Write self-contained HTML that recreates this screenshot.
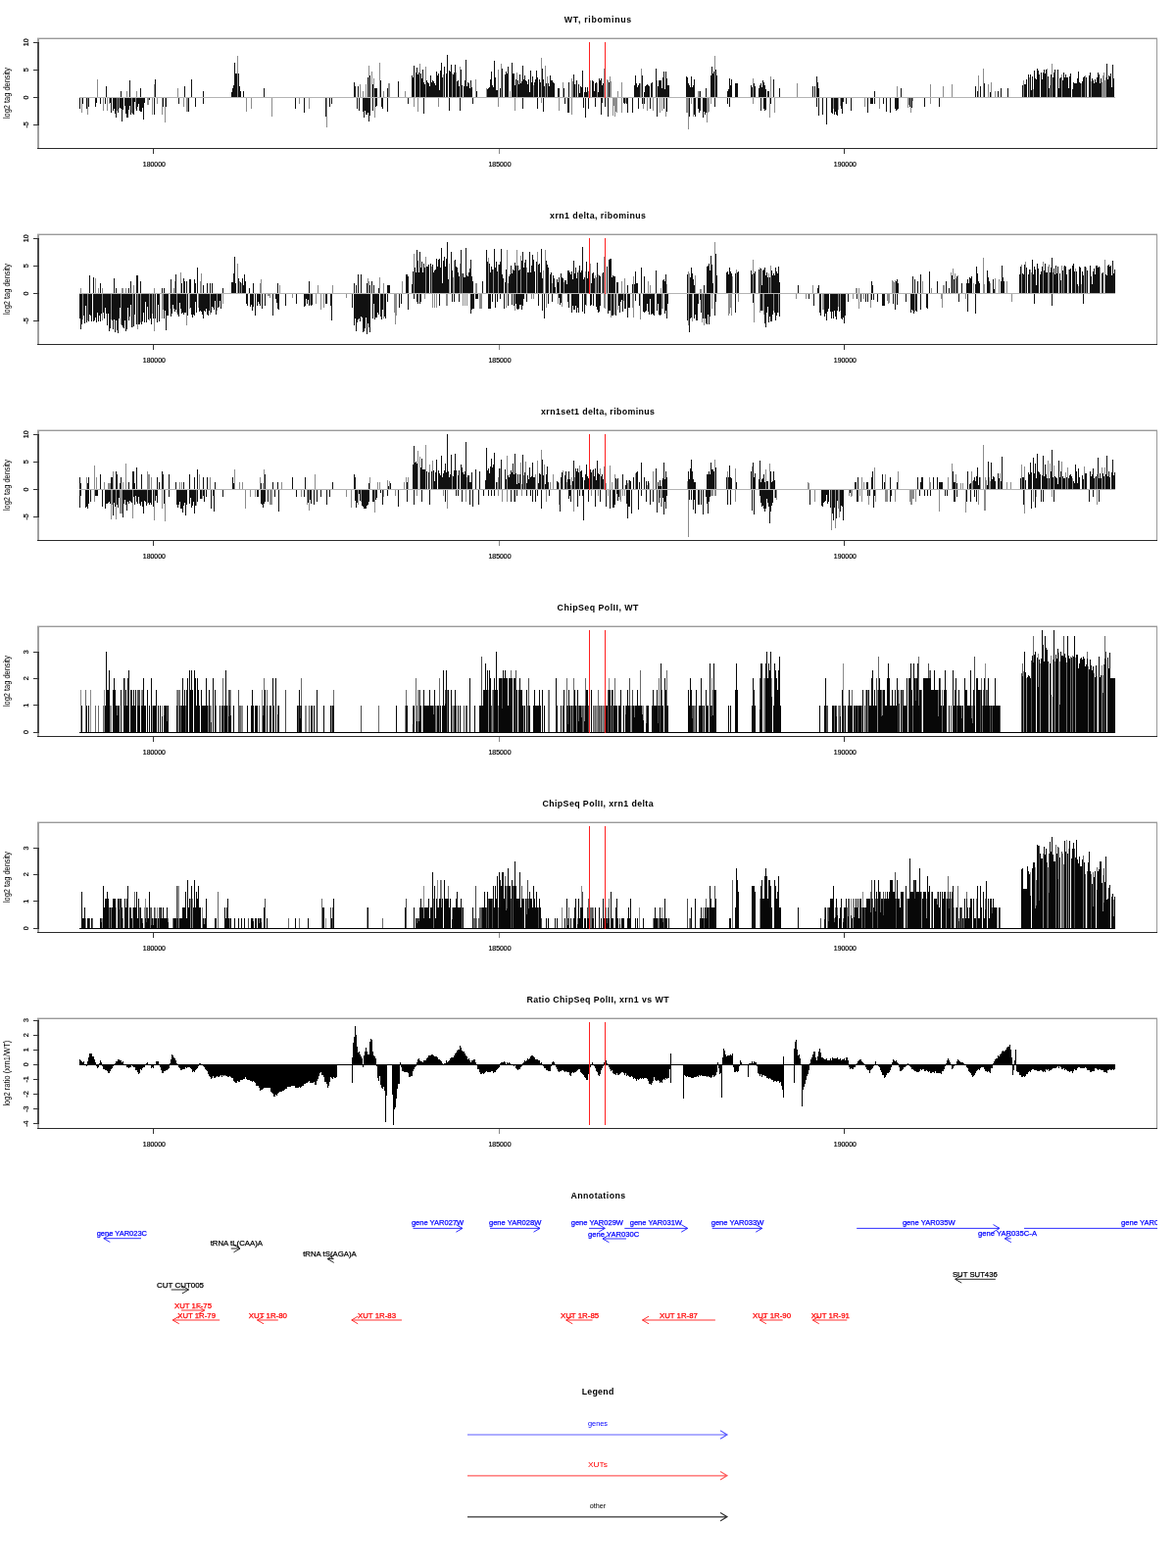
<!DOCTYPE html><html><head><meta charset="utf-8"><title>Plot</title><style>html,body{margin:0;padding:0;background:#fff;}svg{display:block;}text{font-family:"Liberation Sans", "Helvetica", Arial, sans-serif;}</style></head><body>
<svg width="1200" height="1600" viewBox="0 0 1200 1600" shape-rendering="crispEdges">
<rect width="1200" height="1600" fill="#fff"/>
<text x="610" y="23.0" font-size="8.8" font-weight="bold" text-anchor="middle" textLength="68.3" lengthAdjust="spacing">WT, ribominus</text>
<path d="M83.5 99V115M89.5 99V117M99.5 81V100M105.5 99V113M109.5 99V113M111.5 99V106M119.5 99V113M121.5 99V111M129.5 93V100M134.5 99V115M138.5 99V111M139.5 93V100M150.5 99V107M151.5 99V107M155.5 99V117M157.5 86V100M160.5 99V106M165.5 99V117M168.5 99V125M181.5 90V100M187.5 99V109M190.5 99V114M191.5 99V114M242.5 57V100M251.5 99V114M256.5 99V111M277.5 99V119M305.5 99V106M315.5 99V111M333.5 99V130M367.5 86V100M370.5 93V100M373.5 86V100M376.5 67V100M379.5 73V100M381.5 80V100M382.5 99V120M387.5 64V100M391.5 93V100M396.5 85V100M397.5 85V100M413.5 93V100M422.5 99V109M426.5 99V114M428.5 65V100M434.5 68V100M447.5 99V109M452.5 76V100M461.5 75V100M465.5 74V100M469.5 68V100M485.5 81V100M496.5 90V100M508.5 71V100M508.5 99V109M511.5 65V100M520.5 93V100M525.5 99V113M527.5 74V100M544.5 87V100M552.5 59V100M552.5 99V105M556.5 67V100M558.5 78V100M570.5 99V113M574.5 84V100M583.5 80V100M583.5 99V117M584.5 83V100M587.5 86V100M600.5 93V100M602.5 82V100M609.5 85V100M616.5 70V100M619.5 81V100M620.5 82V100M622.5 78V100M623.5 83V100M625.5 99V118M626.5 99V108M627.5 99V119M628.5 99V114M629.5 99V115M630.5 93V100M634.5 84V100M634.5 99V115M638.5 99V105M653.5 85V100M654.5 70V100M656.5 99V111M660.5 99V113M666.5 99V113M670.5 82V100M673.5 99V115M675.5 99V113M679.5 99V119M700.5 99V115M701.5 99V115M702.5 99V132M705.5 99V106M707.5 99V119M712.5 93V100M713.5 93V100M721.5 99V125M722.5 99V115M723.5 99V114M725.5 99V106M729.5 57V100M768.5 80V100M768.5 99V106M785.5 99V120M786.5 78V100M790.5 99V115M813.5 85V100M850.5 99V111M855.5 99V112M857.5 99V108M882.5 99V109M897.5 99V111M915.5 88V100M926.5 99V110M927.5 99V107M929.5 99V115M931.5 99V103M949.5 86V100M949.5 99V106M962.5 88V100M971.5 86V100M998.5 77V100M1003.5 70V100M1008.5 86V100M1011.5 84V100M1015.5 93V100M1044.5 82V100M1050.5 79V100M1054.5 91V100M1068.5 70V100M1071.5 87V100M1073.5 65V100M1083.5 76V100M1103.5 85V100M1107.5 77V100M1113.5 83V100M1124.5 84V100M1125.5 77V100M1126.5 74V100M1127.5 82V100M1128.5 79V100" stroke="#8c8c8c" stroke-width="1" fill="none"/><path d="M81.5 99V111M84.5 99V106M88.5 99V111M90.5 99V109M97.5 99V109M98.5 99V105M102.5 99V106M107.5 99V106M108.5 88V100M112.5 99V105M113.5 99V115M115.5 99V113M116.5 99V111M117.5 99V116M118.5 99V120M120.5 99V115M122.5 99V110M123.5 93V100M123.5 99V111M124.5 99V124M125.5 99V112M127.5 99V108M128.5 99V116M129.5 99V120M130.5 99V120M131.5 99V112M132.5 82V100M132.5 99V108M133.5 99V117M135.5 99V116M136.5 99V117M137.5 99V104M139.5 99V113M140.5 99V109M141.5 99V106M142.5 99V113M143.5 90V100M143.5 99V114M144.5 99V114M145.5 99V110M146.5 99V122M147.5 99V105M152.5 99V102M157.5 99V117M158.5 81V100M166.5 99V109M169.5 99V109M182.5 99V106M188.5 88V100M192.5 99V114M195.5 81V100M199.5 99V109M207.5 93V100M207.5 99V106M236.5 94V100M237.5 90V100M238.5 87V100M239.5 64V100M240.5 75V100M241.5 75V100M243.5 75V100M244.5 88V100M245.5 93V100M248.5 93V100M269.5 90V100M301.5 99V111M310.5 99V115M332.5 99V119M336.5 99V109M338.5 99V106M361.5 84V100M362.5 88V100M364.5 99V111M365.5 88V100M366.5 99V113M370.5 99V114M371.5 99V120M372.5 99V113M373.5 99V117M374.5 99V117M375.5 79V100M375.5 99V115M376.5 99V124M377.5 77V100M377.5 99V118M380.5 86V100M380.5 99V113M382.5 90V100M383.5 90V100M383.5 99V109M384.5 90V100M384.5 99V108M388.5 82V100M389.5 99V109M390.5 99V111M395.5 90V100M395.5 99V114M406.5 83V100M416.5 99V106M420.5 77V100M421.5 79V100M422.5 67V100M424.5 74V100M425.5 69V100M426.5 76V100M427.5 74V100M429.5 75V100M430.5 80V100M431.5 71V100M432.5 84V100M432.5 99V116M433.5 86V100M435.5 82V100M436.5 84V100M437.5 85V100M438.5 88V100M439.5 77V100M440.5 84V100M441.5 82V100M442.5 83V100M443.5 85V100M444.5 87V100M445.5 73V100M446.5 77V100M447.5 75V100M448.5 92V100M449.5 72V100M450.5 64V100M451.5 79V100M453.5 68V100M455.5 75V100M456.5 56V100M458.5 72V100M458.5 99V113M459.5 73V100M460.5 66V100M462.5 76V100M463.5 74V100M464.5 66V100M466.5 83V100M467.5 82V100M468.5 88V100M469.5 99V113M470.5 71V100M471.5 87V100M473.5 88V100M474.5 82V100M475.5 61V100M476.5 88V100M477.5 84V100M478.5 85V100M479.5 90V100M480.5 82V100M481.5 89V100M482.5 99V106M486.5 93V100M497.5 91V100M498.5 90V100M499.5 89V100M500.5 81V100M501.5 73V100M502.5 87V100M503.5 89V100M504.5 62V100M505.5 79V100M506.5 92V100M507.5 92V100M510.5 90V100M512.5 70V100M515.5 76V100M516.5 73V100M517.5 75V100M518.5 68V100M522.5 64V100M523.5 75V100M524.5 75V100M525.5 87V100M526.5 81V100M528.5 82V100M529.5 86V100M530.5 76V100M531.5 85V100M532.5 83V100M533.5 67V100M533.5 99V111M534.5 81V100M535.5 77V100M536.5 82V100M537.5 83V100M538.5 86V100M539.5 81V100M540.5 94V100M541.5 72V100M542.5 84V100M543.5 78V100M545.5 84V100M546.5 81V100M547.5 72V100M548.5 79V100M548.5 99V111M550.5 81V100M551.5 84V100M553.5 70V100M554.5 81V100M554.5 99V114M555.5 88V100M557.5 85V100M559.5 85V100M560.5 88V100M561.5 77V100M562.5 82V100M563.5 82V100M564.5 84V100M565.5 85V100M569.5 90V100M570.5 90V100M575.5 90V100M576.5 99V106M579.5 99V115M580.5 84V100M580.5 99V115M585.5 76V100M586.5 86V100M588.5 82V100M590.5 86V100M591.5 95V100M592.5 88V100M593.5 89V100M594.5 72V100M595.5 99V110M596.5 94V100M597.5 89V100M597.5 99V120M598.5 94V100M599.5 89V100M600.5 99V111M604.5 82V100M605.5 83V100M606.5 93V100M607.5 85V100M607.5 99V109M608.5 84V100M610.5 94V100M611.5 80V100M612.5 82V100M613.5 80V100M613.5 99V117M614.5 87V100M614.5 99V105M615.5 85V100M617.5 99V109M620.5 99V119M621.5 84V100M636.5 99V105M637.5 99V106M639.5 99V106M640.5 99V115M645.5 99V115M647.5 87V100M648.5 77V100M649.5 85V100M650.5 89V100M651.5 87V100M651.5 99V111M652.5 85V100M655.5 77V100M655.5 99V106M657.5 94V100M657.5 99V106M658.5 88V100M659.5 87V100M660.5 86V100M661.5 87V100M662.5 88V100M663.5 99V111M664.5 85V100M665.5 84V100M669.5 70V100M670.5 99V119M671.5 88V100M672.5 82V100M673.5 82V100M674.5 82V100M675.5 90V100M676.5 79V100M677.5 73V100M677.5 99V111M678.5 91V100M679.5 73V100M680.5 80V100M680.5 99V114M681.5 87V100M682.5 87V100M700.5 78V100M701.5 79V100M702.5 85V100M703.5 87V100M703.5 99V119M704.5 89V100M705.5 78V100M706.5 89V100M707.5 87V100M708.5 81V100M708.5 99V117M709.5 99V119M712.5 99V111M713.5 99V115M714.5 93V100M714.5 99V113M717.5 99V120M718.5 99V114M719.5 99V117M720.5 90V100M720.5 99V115M725.5 77V100M726.5 68V100M727.5 75V100M728.5 73V100M729.5 99V109M730.5 71V100M731.5 77V100M742.5 93V100M742.5 99V106M743.5 91V100M744.5 80V100M744.5 99V109M745.5 87V100M746.5 81V100M750.5 85V100M751.5 85V100M752.5 85V100M766.5 87V100M767.5 89V100M769.5 85V100M770.5 88V100M774.5 90V100M775.5 87V100M776.5 85V100M776.5 99V113M777.5 89V100M778.5 82V100M779.5 84V100M779.5 99V111M780.5 87V100M780.5 99V113M781.5 91V100M781.5 99V112M783.5 93V100M784.5 93V100M786.5 99V106M789.5 81V100M795.5 90V100M829.5 88V100M831.5 88V100M833.5 78V100M833.5 99V109M834.5 84V100M835.5 90V100M835.5 99V118M839.5 99V117M843.5 99V127M848.5 99V115M849.5 99V116M851.5 99V117M852.5 99V114M853.5 99V117M854.5 99V118M858.5 99V111M859.5 99V116M860.5 99V104M863.5 99V106M868.5 99V113M885.5 99V115M888.5 99V106M889.5 99V106M890.5 99V106M892.5 93V100M892.5 99V106M901.5 99V106M904.5 99V114M908.5 99V115M913.5 99V111M914.5 99V113M915.5 99V112M916.5 99V111M919.5 90V100M928.5 99V109M930.5 99V110M943.5 99V109M958.5 99V109M995.5 88V100M997.5 93V100M1000.5 88V100M1004.5 85V100M1010.5 94V100M1018.5 93V100M1021.5 90V100M1028.5 90V100M1043.5 87V100M1045.5 86V100M1046.5 86V100M1047.5 81V100M1049.5 76V100M1051.5 76V100M1052.5 92V100M1053.5 78V100M1055.5 72V100M1056.5 80V100M1057.5 81V100M1058.5 70V100M1059.5 72V100M1060.5 76V100M1062.5 74V100M1063.5 81V100M1064.5 74V100M1065.5 71V100M1066.5 75V100M1067.5 71V100M1069.5 78V100M1070.5 90V100M1072.5 76V100M1074.5 79V100M1075.5 74V100M1076.5 71V100M1079.5 71V100M1080.5 90V100M1081.5 80V100M1082.5 79V100M1084.5 82V100M1085.5 74V100M1086.5 79V100M1087.5 76V100M1088.5 79V100M1089.5 79V100M1090.5 90V100M1091.5 78V100M1092.5 75V100M1094.5 91V100M1095.5 84V100M1096.5 85V100M1097.5 85V100M1098.5 85V100M1099.5 80V100M1100.5 73V100M1101.5 84V100M1102.5 85V100M1104.5 83V100M1105.5 79V100M1106.5 78V100M1108.5 79V100M1111.5 77V100M1112.5 74V100M1114.5 80V100M1115.5 82V100M1116.5 85V100M1117.5 81V100M1118.5 84V100M1119.5 79V100M1120.5 74V100M1121.5 76V100M1122.5 85V100M1123.5 80V100M1129.5 65V100M1130.5 81V100M1131.5 77V100M1132.5 78V100M1133.5 75V100M1134.5 89V100M1135.5 66V100M1136.5 80V100" stroke="#111" stroke-width="1" fill="none"/>
<path d="M81 99.5H1138" stroke="#b4b4b4" stroke-width="1"/>
<path d="M601.5 43 V100 M617.5 43 V100" stroke="#ff2020" stroke-width="1"/>
<path d="M38 39.5 H1181 M1180.5 39 V152" fill="none" stroke="#9a9a9a" stroke-width="1"/>
<path d="M38 38.5 H1181" fill="none" stroke="#d8d8d8" stroke-width="1"/>
<path d="M38.5 39.0 V152.0 M39.5 39.0 V152.0" fill="none" stroke="#a0a0a0" stroke-width="1"/>
<path d="M38 151.5 H1181" fill="none" stroke="#2a2a2a" stroke-width="1"/>
<path d="M38.5 43 V128 M39.5 43 V128" stroke="#4a4a4a" stroke-width="1" fill="none"/>
<path d="M34 43.5 H40" stroke="#333" stroke-width="1"/>
<text transform="translate(29.3 43.2) rotate(-90)" font-size="7.2" text-anchor="middle" stroke="#000" stroke-width="0.2">10</text>
<path d="M34 71.5 H40" stroke="#333" stroke-width="1"/>
<text transform="translate(29.3 71.3) rotate(-90)" font-size="7.2" text-anchor="middle" stroke="#000" stroke-width="0.2">5</text>
<path d="M34 99.5 H40" stroke="#333" stroke-width="1"/>
<text transform="translate(29.3 99.5) rotate(-90)" font-size="7.2" text-anchor="middle" stroke="#000" stroke-width="0.2">0</text>
<path d="M34 127.5 H40" stroke="#333" stroke-width="1"/>
<text transform="translate(29.3 127.4) rotate(-90)" font-size="7.2" text-anchor="middle" stroke="#000" stroke-width="0.2">-5</text>
<text transform="translate(9.6 95.1) rotate(-90)" font-size="8.6" text-anchor="middle" textLength="52" lengthAdjust="spacingAndGlyphs">log2 tag density</text>
<path d="M156.0 152 V157" stroke="#333" stroke-width="1"/>
<text x="157.3" y="170.0" font-size="6.9" text-anchor="middle" stroke="#000" stroke-width="0.2">180000</text>
<path d="M509.0 152 V157" stroke="#888" stroke-width="1"/>
<text x="510.0" y="170.0" font-size="6.9" text-anchor="middle" stroke="#000" stroke-width="0.2">185000</text>
<path d="M861.0 152 V157" stroke="#333" stroke-width="1"/>
<text x="862.3" y="170.0" font-size="6.9" text-anchor="middle" stroke="#000" stroke-width="0.2">190000</text>
<text x="610" y="223.0" font-size="8.8" font-weight="bold" text-anchor="middle" textLength="97.9" lengthAdjust="spacing">xrn1 delta, ribominus</text>
<path d="M82.5 294V300M84.5 299V326M89.5 299V327M97.5 284V300M100.5 294V300M104.5 294V300M104.5 299V327M113.5 299V326M123.5 299V331M124.5 294V300M125.5 294V300M128.5 294V300M135.5 299V334M136.5 291V300M140.5 299V336M143.5 299V329M152.5 299V327M155.5 299V320M157.5 294V300M157.5 299V338M165.5 299V325M166.5 299V316M173.5 299V315M177.5 294V300M178.5 287V300M180.5 299V319M184.5 278V300M190.5 299V332M193.5 299V315M202.5 299V314M204.5 287V300M205.5 279V300M214.5 299V321M221.5 299V317M227.5 299V310M242.5 269V300M244.5 287V300M246.5 289V300M265.5 289V300M266.5 285V300M273.5 299V302M274.5 299V302M275.5 299V304M285.5 291V300M298.5 299V304M316.5 299V311M322.5 299V310M324.5 291V300M327.5 299V316M330.5 299V314M339.5 291V300M353.5 299V304M375.5 284V300M376.5 287V300M387.5 283V300M391.5 289V300M391.5 299V325M402.5 299V319M403.5 299V331M404.5 299V322M410.5 287V300M422.5 259V300M433.5 299V305M434.5 262V300M440.5 272V300M441.5 299V314M443.5 299V314M445.5 299V314M455.5 299V312M456.5 299V312M458.5 269V300M462.5 283V300M463.5 266V300M469.5 269V300M471.5 279V300M472.5 299V312M474.5 299V312M476.5 299V312M485.5 289V300M486.5 289V300M489.5 299V315M490.5 299V315M491.5 299V315M498.5 263V300M503.5 275V300M508.5 270V300M516.5 299V314M517.5 255V300M518.5 289V300M525.5 299V317M527.5 255V300M531.5 261V300M537.5 273V300M542.5 299V305M544.5 299V305M548.5 257V300M554.5 276V300M556.5 255V300M557.5 299V314M563.5 289V300M569.5 299V310M573.5 299V313M575.5 288V300M590.5 276V300M597.5 277V300M598.5 299V312M602.5 269V300M607.5 281V300M608.5 283V300M610.5 280V300M614.5 279V300M616.5 262V300M616.5 299V314M617.5 299V315M623.5 299V324M626.5 299V321M627.5 299V321M630.5 299V316M634.5 287V300M636.5 299V307M637.5 284V300M645.5 299V314M646.5 282V300M646.5 299V324M653.5 299V326M661.5 287V300M663.5 291V300M674.5 294V300M675.5 299V315M676.5 299V315M680.5 290V300M702.5 277V300M702.5 299V332M703.5 279V300M706.5 299V328M709.5 281V300M714.5 295V300M715.5 295V300M716.5 299V329M718.5 299V332M726.5 299V315M729.5 247V300M743.5 299V322M744.5 299V320M745.5 299V314M746.5 299V322M747.5 282V300M751.5 275V300M753.5 299V308M768.5 265V300M769.5 299V329M775.5 273V300M775.5 299V319M778.5 299V317M779.5 299V321M784.5 279V300M786.5 271V300M789.5 299V317M794.5 299V319M812.5 299V305M822.5 299V305M829.5 291V300M839.5 299V316M840.5 299V316M855.5 299V313M857.5 299V317M870.5 299V305M873.5 294V300M874.5 294V300M876.5 294V300M876.5 299V315M881.5 299V305M888.5 299V314M905.5 299V307M906.5 299V310M907.5 299V309M910.5 286V300M911.5 287V300M912.5 288V300M913.5 286V300M933.5 299V318M941.5 287V300M950.5 294V300M960.5 299V305M961.5 299V314M962.5 291V300M963.5 291V300M970.5 278V300M972.5 274V300M974.5 279V300M975.5 284V300M977.5 281V300M985.5 299V305M993.5 289V300M1003.5 263V300M1004.5 290V300M1010.5 289V300M1015.5 284V300M1019.5 285V300M1027.5 287V300M1032.5 299V308M1042.5 270V300M1046.5 267V300M1051.5 275V300M1052.5 278V300M1064.5 267V300M1069.5 272V300M1070.5 270V300M1074.5 278V300M1083.5 271V300M1085.5 272V300M1090.5 275V300M1097.5 274V300M1100.5 292V300M1103.5 290V300M1106.5 272V300M1108.5 273V300M1122.5 273V300M1127.5 265V300" stroke="#8c8c8c" stroke-width="1" fill="none"/><path d="M81.5 299V325M82.5 299V336M83.5 299V331M85.5 299V322M86.5 299V330M87.5 299V312M88.5 299V329M90.5 299V328M91.5 281V300M91.5 299V321M92.5 299V322M93.5 299V328M95.5 283V300M95.5 299V328M96.5 299V327M97.5 299V324M98.5 299V329M99.5 299V319M100.5 299V328M101.5 299V322M102.5 289V300M102.5 299V328M103.5 299V320M105.5 299V319M106.5 299V325M107.5 299V314M108.5 299V320M109.5 299V332M110.5 299V320M111.5 299V338M112.5 299V335M114.5 299V327M115.5 299V336M116.5 284V300M116.5 299V326M117.5 299V339M118.5 294V300M118.5 299V327M119.5 299V337M120.5 299V340M121.5 299V325M122.5 299V314M124.5 299V332M125.5 299V334M126.5 299V335M127.5 299V327M128.5 299V338M129.5 299V336M130.5 299V314M131.5 294V300M131.5 299V327M132.5 299V323M133.5 287V300M133.5 299V311M134.5 299V334M136.5 299V333M137.5 299V321M139.5 281V300M139.5 299V331M140.5 281V300M141.5 299V331M142.5 299V331M143.5 287V300M144.5 299V331M145.5 299V328M146.5 299V319M147.5 299V329M148.5 299V308M149.5 299V329M150.5 299V313M151.5 299V326M153.5 299V325M154.5 299V331M156.5 299V325M158.5 299V325M160.5 299V329M161.5 299V311M162.5 299V328M165.5 294V300M167.5 294V300M167.5 299V325M168.5 299V317M169.5 299V337M170.5 299V322M171.5 299V322M174.5 285V300M174.5 299V323M175.5 299V320M176.5 299V311M177.5 299V315M178.5 299V318M179.5 280V300M179.5 299V316M181.5 299V321M182.5 299V323M183.5 299V309M184.5 299V315M185.5 289V300M185.5 299V320M186.5 299V319M187.5 284V300M187.5 299V321M188.5 287V300M188.5 299V319M189.5 299V319M190.5 287V300M191.5 299V322M193.5 285V300M194.5 285V300M194.5 299V314M195.5 299V321M196.5 299V324M197.5 299V321M198.5 285V300M198.5 299V322M199.5 289V300M199.5 299V308M200.5 299V319M201.5 273V300M203.5 299V318M204.5 299V317M205.5 299V318M206.5 299V321M207.5 291V300M207.5 299V325M208.5 299V317M209.5 299V318M210.5 299V315M211.5 289V300M211.5 299V321M212.5 299V322M213.5 299V317M214.5 289V300M215.5 299V319M216.5 289V300M216.5 299V313M217.5 299V314M218.5 299V316M219.5 299V307M220.5 299V321M222.5 299V314M223.5 299V313M224.5 299V307M225.5 299V315M227.5 294V300M236.5 288V300M237.5 288V300M238.5 279V300M239.5 262V300M240.5 289V300M243.5 284V300M245.5 288V300M247.5 284V300M248.5 291V300M249.5 280V300M250.5 287V300M251.5 299V310M252.5 299V312M254.5 294V300M255.5 299V313M256.5 299V311M257.5 299V317M258.5 289V300M258.5 299V313M260.5 299V322M262.5 299V312M263.5 299V308M264.5 299V310M265.5 299V312M267.5 299V315M270.5 299V312M278.5 299V322M281.5 299V305M282.5 299V309M283.5 289V300M283.5 299V315M284.5 299V316M291.5 299V312M302.5 299V310M310.5 299V313M311.5 299V312M312.5 299V305M313.5 299V310M314.5 299V306M315.5 287V300M315.5 299V312M317.5 299V312M318.5 299V311M332.5 299V310M333.5 299V310M337.5 299V312M338.5 299V327M359.5 299V314M361.5 289V300M361.5 299V332M362.5 299V325M363.5 291V300M363.5 299V338M364.5 299V329M365.5 280V300M365.5 299V326M366.5 299V325M367.5 299V328M368.5 280V300M368.5 299V323M369.5 299V324M370.5 299V339M371.5 299V338M372.5 299V335M373.5 299V324M374.5 289V300M374.5 299V341M375.5 299V330M376.5 299V334M377.5 291V300M377.5 299V339M379.5 287V300M380.5 299V325M381.5 291V300M381.5 299V310M382.5 299V326M383.5 299V324M384.5 299V324M385.5 299V319M386.5 294V300M386.5 299V321M388.5 299V323M389.5 299V326M390.5 299V316M392.5 299V323M393.5 299V325M395.5 291V300M395.5 299V308M396.5 291V300M397.5 291V300M407.5 299V314M409.5 299V310M414.5 280V300M415.5 280V300M416.5 282V300M416.5 299V316M420.5 290V300M421.5 277V300M422.5 299V305M423.5 273V300M424.5 278V300M425.5 255V300M425.5 299V308M426.5 266V300M426.5 299V310M427.5 278V300M428.5 257V300M428.5 299V310M429.5 273V300M429.5 299V308M430.5 267V300M431.5 278V300M432.5 269V300M433.5 273V300M435.5 272V300M436.5 272V300M437.5 270V300M439.5 269V300M441.5 270V300M442.5 278V300M443.5 276V300M444.5 275V300M445.5 264V300M446.5 272V300M447.5 265V300M448.5 264V300M448.5 299V312M449.5 273V300M450.5 253V300M451.5 289V300M452.5 266V300M453.5 262V300M454.5 272V300M455.5 264V300M456.5 247V300M457.5 285V300M460.5 257V300M461.5 276V300M461.5 299V308M463.5 299V308M464.5 265V300M465.5 272V300M466.5 273V300M467.5 278V300M468.5 282V300M468.5 299V308M470.5 255V300M472.5 279V300M473.5 283V300M474.5 283V300M475.5 253V300M476.5 281V300M477.5 282V300M478.5 278V300M479.5 274V300M480.5 265V300M480.5 299V320M481.5 282V300M481.5 299V316M482.5 287V300M482.5 299V315M483.5 299V315M485.5 299V305M486.5 299V305M487.5 299V305M492.5 287V300M496.5 255V300M497.5 267V300M498.5 299V315M499.5 269V300M499.5 299V315M500.5 278V300M500.5 299V315M501.5 272V300M502.5 275V300M502.5 299V308M504.5 254V300M505.5 273V300M505.5 299V314M506.5 267V300M507.5 277V300M507.5 299V308M509.5 270V300M510.5 267V300M510.5 299V305M511.5 254V300M512.5 280V300M513.5 284V300M514.5 299V315M515.5 288V300M516.5 275V300M518.5 299V312M519.5 282V300M520.5 280V300M521.5 271V300M522.5 279V300M522.5 299V311M523.5 275V300M524.5 276V300M524.5 299V312M525.5 268V300M526.5 271V300M526.5 299V310M527.5 299V315M528.5 271V300M528.5 299V316M529.5 276V300M529.5 299V315M530.5 275V300M530.5 299V311M531.5 299V311M532.5 266V300M532.5 299V316M533.5 257V300M533.5 299V312M534.5 273V300M534.5 299V305M535.5 268V300M536.5 265V300M537.5 299V308M538.5 278V300M539.5 278V300M540.5 257V300M541.5 278V300M542.5 271V300M543.5 260V300M544.5 265V300M545.5 277V300M547.5 267V300M549.5 270V300M549.5 299V312M550.5 269V300M551.5 278V300M552.5 254V300M553.5 284V300M553.5 299V317M555.5 299V325M557.5 266V300M558.5 270V300M559.5 273V300M559.5 299V310M561.5 280V300M562.5 278V300M563.5 299V308M564.5 281V300M565.5 284V300M566.5 293V300M568.5 285V300M569.5 288V300M570.5 283V300M570.5 299V304M571.5 299V311M572.5 279V300M572.5 299V309M573.5 283V300M574.5 284V300M576.5 286V300M577.5 286V300M578.5 290V300M579.5 276V300M579.5 299V308M580.5 276V300M580.5 299V314M581.5 278V300M582.5 280V300M583.5 277V300M583.5 299V319M584.5 285V300M584.5 299V312M585.5 266V300M585.5 299V316M586.5 279V300M586.5 299V316M587.5 273V300M587.5 299V312M588.5 284V300M588.5 299V319M589.5 278V300M589.5 299V314M590.5 299V319M591.5 271V300M592.5 278V300M593.5 276V300M594.5 252V300M594.5 299V318M595.5 285V300M596.5 283V300M596.5 299V320M597.5 299V311M598.5 267V300M599.5 284V300M600.5 277V300M601.5 281V300M602.5 299V312M603.5 289V300M603.5 299V311M604.5 279V300M605.5 278V300M605.5 299V312M606.5 284V300M608.5 299V313M609.5 268V300M609.5 299V316M610.5 299V319M611.5 281V300M611.5 299V318M612.5 282V300M612.5 299V312M615.5 278V300M617.5 290V300M619.5 272V300M620.5 299V320M621.5 265V300M621.5 299V317M622.5 264V300M622.5 299V317M623.5 264V300M624.5 283V300M624.5 299V322M625.5 281V300M625.5 299V322M626.5 282V300M627.5 282V300M628.5 299V322M629.5 288V300M630.5 288V300M631.5 299V312M632.5 299V319M633.5 299V308M634.5 299V306M635.5 299V318M637.5 299V315M638.5 299V315M640.5 291V300M640.5 299V324M641.5 299V314M642.5 299V314M645.5 290V300M647.5 290V300M648.5 277V300M648.5 299V307M649.5 289V300M650.5 289V300M652.5 299V312M654.5 273V300M656.5 299V318M657.5 282V300M657.5 299V319M658.5 299V318M659.5 299V317M660.5 299V310M661.5 299V318M662.5 299V321M663.5 299V305M664.5 299V321M665.5 299V320M666.5 299V321M667.5 299V322M669.5 276V300M670.5 299V317M671.5 299V310M672.5 299V321M673.5 299V322M674.5 299V321M676.5 286V300M677.5 285V300M678.5 287V300M678.5 299V320M679.5 280V300M679.5 299V317M680.5 299V325M681.5 299V310M701.5 280V300M701.5 299V327M703.5 299V339M704.5 283V300M704.5 299V325M705.5 273V300M705.5 299V324M706.5 279V300M707.5 285V300M708.5 291V300M708.5 299V325M709.5 299V321M710.5 299V327M711.5 299V327M712.5 299V310M714.5 299V306M715.5 299V319M717.5 299V325M718.5 291V300M719.5 299V325M720.5 299V330M721.5 272V300M721.5 299V331M722.5 271V300M722.5 299V321M723.5 269V300M723.5 299V331M724.5 276V300M724.5 299V323M725.5 261V300M726.5 270V300M727.5 289V300M729.5 299V322M730.5 259V300M730.5 299V308M731.5 281V300M741.5 278V300M742.5 277V300M743.5 280V300M744.5 273V300M745.5 277V300M746.5 279V300M750.5 279V300M750.5 299V319M752.5 278V300M753.5 277V300M766.5 276V300M767.5 280V300M768.5 299V309M769.5 279V300M770.5 277V300M774.5 275V300M776.5 274V300M776.5 299V317M777.5 291V300M777.5 299V317M778.5 276V300M779.5 275V300M780.5 273V300M780.5 299V330M781.5 281V300M781.5 299V334M782.5 278V300M782.5 299V319M783.5 283V300M783.5 299V313M784.5 299V329M785.5 283V300M785.5 299V323M786.5 299V328M787.5 276V300M787.5 299V328M788.5 281V300M788.5 299V321M789.5 279V300M790.5 281V300M790.5 299V319M791.5 273V300M791.5 299V327M792.5 277V300M792.5 299V322M793.5 279V300M793.5 299V319M794.5 272V300M795.5 288V300M795.5 299V323M814.5 291V300M825.5 299V305M830.5 299V312M834.5 294V300M835.5 291V300M836.5 299V319M837.5 299V322M841.5 299V323M842.5 299V320M843.5 299V327M844.5 299V318M845.5 299V315M847.5 299V318M848.5 299V325M849.5 299V318M850.5 299V325M851.5 299V317M852.5 299V323M853.5 299V326M854.5 299V317M856.5 299V318M858.5 299V325M859.5 299V326M860.5 299V324M861.5 299V330M862.5 299V322M865.5 299V308M874.5 299V305M878.5 299V308M883.5 299V308M885.5 299V308M889.5 287V300M889.5 299V306M890.5 291V300M891.5 299V306M895.5 299V308M900.5 299V312M901.5 299V312M902.5 299V312M911.5 299V310M913.5 299V316M914.5 287V300M915.5 285V300M915.5 299V311M916.5 289V300M924.5 299V308M929.5 299V319M930.5 299V316M931.5 282V300M931.5 299V317M932.5 299V320M933.5 285V300M934.5 299V317M935.5 299V318M936.5 287V300M939.5 280V300M939.5 299V316M945.5 299V314M946.5 299V315M948.5 277V300M956.5 287V300M965.5 287V300M968.5 294V300M971.5 281V300M973.5 285V300M976.5 282V300M978.5 299V308M981.5 289V300M986.5 289V300M987.5 285V300M987.5 299V318M988.5 289V300M989.5 283V300M990.5 284V300M991.5 282V300M995.5 290V300M995.5 299V320M996.5 272V300M997.5 279V300M998.5 287V300M999.5 289V300M1007.5 276V300M1008.5 283V300M1009.5 287V300M1013.5 285V300M1014.5 295V300M1021.5 287V300M1022.5 271V300M1023.5 283V300M1024.5 287V300M1040.5 280V300M1041.5 272V300M1043.5 279V300M1044.5 280V300M1045.5 270V300M1047.5 273V300M1049.5 280V300M1050.5 275V300M1053.5 265V300M1054.5 280V300M1055.5 272V300M1055.5 299V310M1056.5 275V300M1057.5 291V300M1058.5 269V300M1059.5 274V300M1061.5 280V300M1062.5 277V300M1063.5 272V300M1065.5 276V300M1066.5 269V300M1067.5 278V300M1068.5 278V300M1071.5 278V300M1072.5 273V300M1073.5 263V300M1073.5 299V312M1075.5 274V300M1076.5 280V300M1077.5 271V300M1078.5 279V300M1079.5 272V300M1081.5 279V300M1082.5 286V300M1084.5 276V300M1086.5 271V300M1087.5 272V300M1088.5 280V300M1091.5 275V300M1092.5 274V300M1094.5 271V300M1095.5 269V300M1096.5 277V300M1098.5 277V300M1099.5 290V300M1101.5 272V300M1102.5 273V300M1104.5 277V300M1105.5 281V300M1105.5 299V310M1107.5 272V300M1109.5 276V300M1112.5 271V300M1113.5 282V300M1114.5 290V300M1115.5 277V300M1116.5 274V300M1117.5 280V300M1118.5 271V300M1119.5 271V300M1120.5 273V300M1121.5 272V300M1124.5 279V300M1125.5 278V300M1128.5 280V300M1129.5 281V300M1130.5 271V300M1131.5 270V300M1132.5 272V300M1133.5 271V300M1134.5 281V300M1135.5 266V300M1136.5 279V300M1137.5 275V300" stroke="#111" stroke-width="1" fill="none"/>
<path d="M81 299.5H1138" stroke="#b4b4b4" stroke-width="1"/>
<path d="M601.5 243 V300 M617.5 243 V300" stroke="#ff2020" stroke-width="1"/>
<path d="M38 239.5 H1181 M1180.5 239 V352" fill="none" stroke="#9a9a9a" stroke-width="1"/>
<path d="M38 238.5 H1181" fill="none" stroke="#d8d8d8" stroke-width="1"/>
<path d="M38.5 239.0 V352.0 M39.5 239.0 V352.0" fill="none" stroke="#a0a0a0" stroke-width="1"/>
<path d="M38 351.5 H1181" fill="none" stroke="#2a2a2a" stroke-width="1"/>
<path d="M38.5 243 V328 M39.5 243 V328" stroke="#4a4a4a" stroke-width="1" fill="none"/>
<path d="M34 243.5 H40" stroke="#333" stroke-width="1"/>
<text transform="translate(29.3 243.2) rotate(-90)" font-size="7.2" text-anchor="middle" stroke="#000" stroke-width="0.2">10</text>
<path d="M34 271.5 H40" stroke="#333" stroke-width="1"/>
<text transform="translate(29.3 271.3) rotate(-90)" font-size="7.2" text-anchor="middle" stroke="#000" stroke-width="0.2">5</text>
<path d="M34 299.5 H40" stroke="#333" stroke-width="1"/>
<text transform="translate(29.3 299.5) rotate(-90)" font-size="7.2" text-anchor="middle" stroke="#000" stroke-width="0.2">0</text>
<path d="M34 327.5 H40" stroke="#333" stroke-width="1"/>
<text transform="translate(29.3 327.4) rotate(-90)" font-size="7.2" text-anchor="middle" stroke="#000" stroke-width="0.2">-5</text>
<text transform="translate(9.6 295.1) rotate(-90)" font-size="8.6" text-anchor="middle" textLength="52" lengthAdjust="spacingAndGlyphs">log2 tag density</text>
<path d="M156.0 352 V357" stroke="#333" stroke-width="1"/>
<text x="157.3" y="370.0" font-size="6.9" text-anchor="middle" stroke="#000" stroke-width="0.2">180000</text>
<path d="M509.0 352 V357" stroke="#888" stroke-width="1"/>
<text x="510.0" y="370.0" font-size="6.9" text-anchor="middle" stroke="#000" stroke-width="0.2">185000</text>
<path d="M861.0 352 V357" stroke="#333" stroke-width="1"/>
<text x="862.3" y="370.0" font-size="6.9" text-anchor="middle" stroke="#000" stroke-width="0.2">190000</text>
<text x="610" y="423.0" font-size="8.8" font-weight="bold" text-anchor="middle" textLength="115.9" lengthAdjust="spacing">xrn1set1 delta, ribominus</text>
<path d="M88.5 487V500M96.5 475V500M96.5 499V512M98.5 487V500M106.5 492V500M110.5 493V500M111.5 493V500M112.5 493V500M113.5 499V530M114.5 499V515M115.5 481V500M118.5 499V530M122.5 499V524M123.5 499V524M124.5 499V524M125.5 492V500M128.5 473V500M135.5 499V529M150.5 481V500M150.5 499V514M151.5 484V500M152.5 484V500M154.5 487V500M157.5 499V531M165.5 499V519M168.5 499V532M183.5 492V500M185.5 492V500M200.5 499V516M203.5 484V500M206.5 499V509M214.5 487V500M239.5 479V500M244.5 492V500M247.5 492V500M250.5 499V519M255.5 499V507M260.5 499V507M265.5 487V500M268.5 493V500M269.5 479V500M275.5 499V515M276.5 499V515M277.5 499V515M287.5 492V500M307.5 499V507M313.5 499V515M315.5 499V521M321.5 484V500M353.5 499V507M358.5 499V518M365.5 499V515M368.5 499V512M377.5 487V500M382.5 499V523M385.5 492V500M387.5 492V500M391.5 499V507M395.5 490V500M397.5 491V500M403.5 499V506M412.5 492V500M414.5 487V500M416.5 487V500M425.5 499V506M426.5 460V500M428.5 466V500M434.5 454V500M438.5 474V500M441.5 470V500M452.5 499V506M456.5 499V519M461.5 485V500M475.5 499V512M476.5 487V500M507.5 492V500M508.5 487V500M508.5 499V506M510.5 478V500M512.5 499V512M517.5 465V500M517.5 499V512M524.5 499V512M531.5 472V500M532.5 494V500M532.5 499V506M534.5 485V500M536.5 471V500M546.5 484V500M548.5 470V500M552.5 459V500M555.5 474V500M557.5 499V512M561.5 492V500M564.5 484V500M570.5 493V500M570.5 499V515M574.5 480V500M578.5 492V500M582.5 495V500M583.5 487V500M585.5 499V522M586.5 487V500M591.5 475V500M603.5 499V506M604.5 480V500M610.5 499V506M612.5 478V500M616.5 476V500M618.5 493V500M620.5 499V506M622.5 475V500M624.5 492V500M627.5 484V500M629.5 489V500M632.5 499V510M633.5 499V512M635.5 499V506M637.5 499V506M640.5 493V500M641.5 490V500M648.5 483V500M660.5 495V500M662.5 493V500M666.5 481V500M673.5 499V508M674.5 499V517M675.5 490V500M675.5 499V517M701.5 491V500M702.5 499V548M725.5 499V506M726.5 499V506M727.5 499V506M729.5 469V500M729.5 499V506M730.5 499V506M742.5 481V500M750.5 478V500M750.5 499V512M767.5 476V500M781.5 479V500M785.5 473V500M790.5 499V508M792.5 499V510M824.5 492V500M825.5 493V500M831.5 499V512M848.5 499V541M852.5 499V539M855.5 499V519M856.5 499V528M866.5 499V506M868.5 499V507M869.5 499V506M877.5 499V506M879.5 487V500M879.5 499V512M881.5 492V500M886.5 499V515M892.5 477V500M893.5 499V512M903.5 484V500M903.5 499V512M904.5 499V512M905.5 499V512M913.5 499V512M916.5 481V500M928.5 499V512M929.5 499V515M930.5 499V515M931.5 499V509M932.5 499V509M934.5 499V512M948.5 487V500M949.5 492V500M958.5 499V522M967.5 487V500M971.5 473V500M975.5 484V500M980.5 493V500M982.5 493V500M985.5 499V523M991.5 481V500M992.5 491V500M998.5 499V515M1000.5 487V500M1003.5 454V500M1004.5 499V521M1005.5 487V500M1005.5 499V521M1006.5 490V500M1009.5 487V500M1010.5 491V500M1020.5 483V500M1027.5 492V500M1031.5 492V500M1042.5 474V500M1045.5 476V500M1045.5 499V524M1054.5 499V512M1057.5 499V507M1069.5 470V500M1071.5 473V500M1073.5 499V507M1075.5 475V500M1083.5 471V500M1087.5 482V500M1089.5 477V500M1094.5 488V500M1106.5 476V500M1117.5 487V500M1119.5 484V500M1119.5 499V515M1124.5 477V500M1127.5 477V500" stroke="#8c8c8c" stroke-width="1" fill="none"/><path d="M81.5 487V500M81.5 499V518M82.5 493V500M82.5 499V506M87.5 499V518M88.5 499V517M89.5 493V500M89.5 499V519M90.5 487V500M90.5 499V514M92.5 499V512M97.5 499V506M98.5 499V506M99.5 499V506M102.5 484V500M104.5 499V517M107.5 499V519M108.5 499V514M109.5 499V514M110.5 499V513M111.5 499V512M112.5 499V514M113.5 487V500M114.5 487V500M115.5 499V526M116.5 499V513M117.5 499V517M118.5 481V500M119.5 484V500M119.5 499V515M120.5 499V518M121.5 499V508M122.5 493V500M123.5 487V500M125.5 499V528M126.5 499V514M127.5 499V510M128.5 499V515M129.5 499V521M130.5 499V512M131.5 492V500M131.5 499V514M132.5 499V511M133.5 499V512M134.5 499V513M135.5 481V500M136.5 481V500M136.5 499V507M137.5 493V500M137.5 499V515M138.5 499V506M139.5 477V500M139.5 499V512M140.5 499V514M141.5 499V507M142.5 499V514M143.5 499V516M144.5 484V500M144.5 499V512M145.5 499V517M146.5 499V524M147.5 499V511M148.5 499V512M149.5 499V516M151.5 499V513M152.5 499V515M153.5 499V513M154.5 499V515M156.5 499V517M158.5 499V511M159.5 499V506M160.5 487V500M160.5 499V513M162.5 492V500M165.5 481V500M166.5 484V500M167.5 499V514M172.5 484V500M172.5 499V507M179.5 492V500M180.5 499V515M181.5 499V518M182.5 499V515M183.5 499V512M184.5 499V519M185.5 499V519M186.5 499V523M187.5 492V500M187.5 499V516M188.5 499V513M189.5 499V526M190.5 499V515M193.5 484V500M193.5 499V514M194.5 499V508M195.5 499V518M196.5 499V516M197.5 499V512M198.5 487V500M198.5 499V524M199.5 499V516M201.5 479V500M201.5 499V512M204.5 499V509M205.5 499V509M207.5 487V500M207.5 499V506M208.5 499V512M210.5 499V507M211.5 487V500M215.5 499V519M217.5 499V506M218.5 499V522M219.5 492V500M227.5 499V507M237.5 487V500M238.5 493V500M262.5 499V507M263.5 499V507M266.5 493V500M266.5 499V514M267.5 499V515M268.5 499V518M269.5 499V514M270.5 484V500M270.5 499V512M273.5 499V512M278.5 492V500M280.5 499V507M283.5 492V500M284.5 499V522M298.5 487V500M302.5 499V507M310.5 499V507M311.5 487V500M314.5 499V513M316.5 499V510M317.5 499V514M320.5 499V515M323.5 499V512M327.5 499V507M333.5 499V515M336.5 499V507M339.5 492V500M361.5 484V500M362.5 487V500M362.5 499V511M363.5 499V518M364.5 499V513M366.5 499V504M367.5 499V511M369.5 499V516M370.5 499V517M371.5 499V519M372.5 499V519M373.5 499V519M374.5 499V516M375.5 499V515M376.5 493V500M376.5 499V512M380.5 499V512M381.5 499V512M383.5 499V510M384.5 499V508M388.5 499V503M390.5 499V515M395.5 499V506M396.5 496V500M398.5 493V500M406.5 499V517M415.5 492V500M415.5 499V512M421.5 474V500M422.5 455V500M422.5 499V515M423.5 472V500M424.5 471V500M425.5 473V500M429.5 477V500M430.5 468V500M430.5 499V512M431.5 479V500M432.5 479V500M433.5 479V500M435.5 481V500M437.5 482V500M438.5 499V515M440.5 481V500M442.5 480V500M443.5 491V500M444.5 482V500M445.5 469V500M447.5 480V500M448.5 483V500M449.5 485V500M450.5 465V500M451.5 487V500M452.5 483V500M453.5 480V500M454.5 473V500M454.5 499V512M455.5 482V500M456.5 443V500M457.5 481V500M458.5 487V500M459.5 484V500M460.5 464V500M462.5 486V500M463.5 480V500M464.5 463V500M465.5 480V500M465.5 499V506M467.5 485V500M467.5 499V506M468.5 480V500M470.5 474V500M471.5 477V500M471.5 499V512M472.5 482V500M473.5 484V500M474.5 481V500M475.5 451V500M477.5 485V500M478.5 485V500M479.5 492V500M479.5 499V515M480.5 492V500M481.5 482V500M482.5 499V517M485.5 479V500M488.5 499V515M489.5 481V500M493.5 499V506M495.5 490V500M496.5 457V500M497.5 480V500M498.5 478V500M498.5 499V506M499.5 483V500M500.5 476V500M501.5 468V500M501.5 499V506M502.5 477V500M503.5 474V500M504.5 462V500M504.5 499V506M506.5 492V500M509.5 478V500M511.5 469V500M515.5 479V500M516.5 489V500M518.5 485V500M519.5 487V500M520.5 484V500M521.5 480V500M521.5 499V512M522.5 482V500M523.5 473V500M524.5 484V500M525.5 463V500M525.5 499V512M526.5 483V500M527.5 494V500M527.5 499V506M528.5 484V500M529.5 493V500M530.5 484V500M533.5 464V500M535.5 482V500M537.5 493V500M537.5 499V506M538.5 485V500M539.5 489V500M540.5 477V500M541.5 487V500M541.5 499V506M542.5 486V500M543.5 472V500M543.5 499V512M544.5 487V500M545.5 487V500M546.5 499V512M548.5 499V506M549.5 493V500M550.5 483V500M551.5 484V500M552.5 499V519M553.5 469V500M554.5 485V500M556.5 494V500M557.5 484V500M558.5 476V500M559.5 492V500M560.5 499V506M568.5 491V500M569.5 492V500M571.5 499V522M572.5 487V500M573.5 482V500M576.5 485V500M577.5 481V500M579.5 489V500M580.5 481V500M580.5 499V509M581.5 489V500M581.5 499V506M582.5 499V512M584.5 491V500M585.5 470V500M587.5 478V500M588.5 481V500M589.5 478V500M589.5 499V517M590.5 482V500M591.5 499V506M592.5 481V500M593.5 480V500M594.5 487V500M594.5 499V506M595.5 499V531M596.5 490V500M597.5 484V500M598.5 474V500M599.5 486V500M600.5 488V500M600.5 499V512M602.5 479V500M603.5 482V500M605.5 479V500M606.5 486V500M607.5 478V500M607.5 499V517M608.5 490V500M609.5 470V500M610.5 483V500M611.5 484V500M612.5 499V512M613.5 486V500M614.5 484V500M615.5 489V500M617.5 486V500M618.5 499V517M622.5 499V519M625.5 499V518M626.5 499V518M627.5 499V515M628.5 488V500M629.5 499V504M630.5 488V500M630.5 499V511M631.5 499V507M635.5 484V500M638.5 495V500M639.5 490V500M639.5 499V514M640.5 499V529M641.5 499V517M642.5 490V500M642.5 499V517M643.5 491V500M644.5 499V524M646.5 487V500M649.5 482V500M650.5 481V500M651.5 499V520M652.5 492V500M654.5 472V500M654.5 499V506M657.5 487V500M659.5 491V500M659.5 499V512M661.5 491V500M663.5 499V515M666.5 499V512M669.5 478V500M670.5 499V523M671.5 492V500M672.5 496V500M672.5 499V513M673.5 490V500M674.5 496V500M676.5 488V500M676.5 499V508M677.5 472V500M677.5 499V525M678.5 489V500M678.5 499V512M679.5 481V500M679.5 499V519M680.5 487V500M680.5 499V506M702.5 481V500M703.5 489V500M703.5 499V510M704.5 478V500M705.5 469V500M705.5 499V510M706.5 481V500M707.5 489V500M707.5 499V520M708.5 492V500M708.5 499V510M709.5 492V500M709.5 499V524M712.5 499V515M713.5 499V515M715.5 499V515M717.5 499V525M720.5 499V507M721.5 484V500M721.5 499V514M722.5 484V500M722.5 499V524M723.5 481V500M723.5 499V512M724.5 484V500M724.5 499V507M725.5 472V500M726.5 479V500M727.5 479V500M728.5 481V500M730.5 477V500M741.5 487V500M742.5 499V515M743.5 487V500M744.5 475V500M745.5 487V500M745.5 499V515M746.5 488V500M751.5 492V500M766.5 481V500M767.5 499V521M768.5 472V500M769.5 487V500M769.5 499V525M770.5 483V500M774.5 489V500M775.5 470V500M775.5 499V506M776.5 492V500M776.5 499V513M777.5 489V500M777.5 499V517M778.5 488V500M778.5 499V516M779.5 484V500M779.5 499V519M780.5 492V500M780.5 499V522M781.5 499V519M782.5 491V500M782.5 499V509M783.5 491V500M783.5 499V513M784.5 499V517M785.5 499V534M786.5 481V500M786.5 499V522M787.5 492V500M787.5 499V516M788.5 491V500M788.5 499V513M789.5 481V500M790.5 490V500M791.5 499V508M826.5 499V515M838.5 499V516M839.5 499V517M840.5 499V513M841.5 499V512M842.5 499V511M843.5 499V505M844.5 499V514M845.5 499V512M847.5 499V518M849.5 499V524M850.5 499V531M851.5 499V518M853.5 499V529M854.5 499V511M857.5 499V522M858.5 499V516M859.5 499V517M860.5 499V531M867.5 499V503M872.5 492V500M873.5 492V500M874.5 499V512M875.5 487V500M875.5 499V512M884.5 492V500M885.5 492V500M885.5 499V506M887.5 499V506M889.5 487V500M890.5 481V500M891.5 499V518M892.5 499V506M900.5 484V500M902.5 492V500M908.5 487V500M908.5 499V512M909.5 499V506M915.5 492V500M936.5 487V500M938.5 499V506M939.5 492V500M940.5 487V500M941.5 487V500M943.5 499V506M946.5 499V506M949.5 499V506M952.5 487V500M956.5 487V500M958.5 492V500M959.5 492V500M960.5 492V500M961.5 492V500M964.5 499V506M966.5 499V506M972.5 481V500M973.5 492V500M973.5 499V512M974.5 492V500M974.5 499V512M976.5 493V500M976.5 499V507M986.5 499V512M987.5 481V500M989.5 494V500M990.5 493V500M990.5 499V512M993.5 490V500M994.5 487V500M994.5 499V507M995.5 491V500M996.5 486V500M996.5 499V512M997.5 477V500M998.5 495V500M999.5 487V500M1007.5 495V500M1008.5 471V500M1011.5 472V500M1012.5 489V500M1013.5 486V500M1014.5 487V500M1015.5 491V500M1018.5 483V500M1019.5 488V500M1021.5 491V500M1022.5 466V500M1041.5 488V500M1043.5 487V500M1044.5 487V500M1044.5 499V515M1046.5 490V500M1049.5 482V500M1050.5 484V500M1051.5 472V500M1052.5 482V500M1052.5 499V519M1054.5 467V500M1055.5 483V500M1056.5 473V500M1056.5 499V518M1057.5 488V500M1058.5 463V500M1059.5 481V500M1060.5 482V500M1061.5 484V500M1062.5 499V512M1063.5 485V500M1064.5 465V500M1064.5 499V512M1065.5 486V500M1066.5 474V500M1067.5 484V500M1068.5 488V500M1070.5 488V500M1072.5 481V500M1073.5 459V500M1074.5 487V500M1075.5 499V512M1076.5 486V500M1077.5 487V500M1078.5 488V500M1079.5 494V500M1080.5 470V500M1081.5 487V500M1082.5 481V500M1084.5 486V500M1085.5 488V500M1086.5 488V500M1088.5 487V500M1090.5 488V500M1091.5 485V500M1092.5 484V500M1093.5 486V500M1095.5 491V500M1096.5 493V500M1097.5 474V500M1098.5 481V500M1099.5 493V500M1100.5 478V500M1101.5 487V500M1104.5 485V500M1105.5 489V500M1107.5 483V500M1108.5 483V500M1111.5 499V512M1112.5 481V500M1113.5 486V500M1114.5 484V500M1115.5 478V500M1115.5 499V507M1116.5 488V500M1118.5 486V500M1120.5 467V500M1121.5 488V500M1121.5 499V512M1122.5 483V500M1123.5 488V500M1125.5 483V500M1126.5 486V500M1128.5 484V500M1129.5 465V500M1130.5 486V500M1131.5 481V500M1132.5 487V500M1134.5 482V500M1135.5 469V500M1136.5 485V500M1137.5 482V500" stroke="#111" stroke-width="1" fill="none"/>
<path d="M81 499.5H1138" stroke="#b4b4b4" stroke-width="1"/>
<path d="M601.5 443 V500 M617.5 443 V500" stroke="#ff2020" stroke-width="1"/>
<path d="M38 439.5 H1181 M1180.5 439 V552" fill="none" stroke="#9a9a9a" stroke-width="1"/>
<path d="M38 438.5 H1181" fill="none" stroke="#d8d8d8" stroke-width="1"/>
<path d="M38.5 439.0 V552.0 M39.5 439.0 V552.0" fill="none" stroke="#a0a0a0" stroke-width="1"/>
<path d="M38 551.5 H1181" fill="none" stroke="#2a2a2a" stroke-width="1"/>
<path d="M38.5 443 V528 M39.5 443 V528" stroke="#4a4a4a" stroke-width="1" fill="none"/>
<path d="M34 443.5 H40" stroke="#333" stroke-width="1"/>
<text transform="translate(29.3 443.2) rotate(-90)" font-size="7.2" text-anchor="middle" stroke="#000" stroke-width="0.2">10</text>
<path d="M34 471.5 H40" stroke="#333" stroke-width="1"/>
<text transform="translate(29.3 471.3) rotate(-90)" font-size="7.2" text-anchor="middle" stroke="#000" stroke-width="0.2">5</text>
<path d="M34 499.5 H40" stroke="#333" stroke-width="1"/>
<text transform="translate(29.3 499.5) rotate(-90)" font-size="7.2" text-anchor="middle" stroke="#000" stroke-width="0.2">0</text>
<path d="M34 527.5 H40" stroke="#333" stroke-width="1"/>
<text transform="translate(29.3 527.4) rotate(-90)" font-size="7.2" text-anchor="middle" stroke="#000" stroke-width="0.2">-5</text>
<text transform="translate(9.6 495.1) rotate(-90)" font-size="8.6" text-anchor="middle" textLength="52" lengthAdjust="spacingAndGlyphs">log2 tag density</text>
<path d="M156.0 552 V557" stroke="#333" stroke-width="1"/>
<text x="157.3" y="570.0" font-size="6.9" text-anchor="middle" stroke="#000" stroke-width="0.2">180000</text>
<path d="M509.0 552 V557" stroke="#888" stroke-width="1"/>
<text x="510.0" y="570.0" font-size="6.9" text-anchor="middle" stroke="#000" stroke-width="0.2">185000</text>
<path d="M861.0 552 V557" stroke="#333" stroke-width="1"/>
<text x="862.3" y="570.0" font-size="6.9" text-anchor="middle" stroke="#000" stroke-width="0.2">190000</text>
<text x="610" y="623.0" font-size="8.8" font-weight="bold" text-anchor="middle" textLength="82.9" lengthAdjust="spacing">ChipSeq PolII, WT</text>
<path d="M140.5 704V748M141.5 704V748M142.5 704V748M167.5 720V748M189.5 720V748M233.5 704V748M234.5 704V748M243.5 704V748M268.5 720V748M291.5 704V748M304.5 720V748M306.5 720V748M315.5 720V748M368.5 720V748M421.5 720V748M428.5 704V748M454.5 704V748M463.5 720V748M465.5 720V748M473.5 720V748M475.5 720V748M476.5 720V748M491.5 670V748M501.5 720V748M503.5 704V748M512.5 692V748M526.5 684V748M539.5 692V748M579.5 720V748M594.5 720V748M600.5 720V748M611.5 720V748M613.5 720V748M620.5 704V748M638.5 720V748M642.5 692V748M645.5 704V748M671.5 720V748M673.5 720V748M706.5 720V748M707.5 720V748M725.5 720V748M775.5 692V748M843.5 720V748M844.5 720V748M853.5 720V748M872.5 720V748M875.5 720V748M882.5 720V748M894.5 692V748M899.5 704V748M916.5 704V748M934.5 692V748M947.5 677V748M949.5 684V748M959.5 692V748M970.5 720V748M976.5 720V748M994.5 670V748M1000.5 704V748M1006.5 704V748M1010.5 720V748M1012.5 720V748M1020.5 720V748M1042.5 687V748M1052.5 674V748M1085.5 649V748M1126.5 678V748M1128.5 665V748" stroke="#4a4a4a" stroke-width="1" fill="none"/><path d="M87.5 704V748M97.5 720V748M100.5 720V748M105.5 720V748M119.5 720V748M145.5 704V748M170.5 720V748M181.5 704V748M183.5 704V748M184.5 720V748M214.5 720V748M220.5 720V748M227.5 692V748M228.5 720V748M244.5 720V748M245.5 720V748M264.5 720V748M269.5 692V748M272.5 704V748M283.5 720V748M307.5 692V748M340.5 704V748M386.5 720V748M414.5 704V748M424.5 692V748M442.5 720V748M444.5 720V748M448.5 692V748M456.5 704V748M508.5 720V748M521.5 684V748M560.5 704V748M578.5 692V748M585.5 692V748M590.5 720V748M593.5 720V748M595.5 720V748M597.5 692V748M605.5 720V748M607.5 720V748M610.5 704V748M616.5 720V748M623.5 720V748M625.5 704V748M627.5 692V748M647.5 720V748M653.5 684V748M659.5 720V748M672.5 692V748M675.5 704V748M680.5 684V748M708.5 720V748M851.5 720V748M856.5 720V748M857.5 720V748M869.5 704V748M879.5 720V748M896.5 670V748M931.5 720V748M937.5 670V748M940.5 704V748M957.5 704V748M961.5 704V748M981.5 720V748M991.5 720V748M992.5 720V748M1001.5 692V748M1002.5 720V748M1003.5 704V748M1007.5 704V748M1043.5 677V748M1054.5 649V748M1074.5 673V748M1088.5 676V748M1092.5 670V748M1094.5 669V748M1109.5 665V748M1110.5 680V748M1116.5 687V748M1127.5 649V748" stroke="#6a6a6a" stroke-width="1" fill="none"/><path d="M82.5 704V748M92.5 704V748M106.5 704V748M112.5 720V748M113.5 720V748M127.5 692V748M144.5 704V748M155.5 720V748M165.5 720V748M180.5 704V748M182.5 704V748M212.5 720V748M215.5 720V748M232.5 720V748M235.5 704V748M246.5 720V748M247.5 720V748M267.5 704V748M311.5 720V748M312.5 720V748M338.5 720V748M413.5 720V748M425.5 720V748M426.5 704V748M427.5 704V748M431.5 720V748M445.5 720V748M461.5 720V748M462.5 720V748M498.5 704V748M502.5 704V748M534.5 720V748M538.5 720V748M559.5 704V748M582.5 720V748M584.5 720V748M588.5 720V748M596.5 720V748M606.5 720V748M608.5 720V748M609.5 720V748M612.5 720V748M614.5 720V748M615.5 720V748M621.5 692V748M643.5 720V748M644.5 720V748M655.5 720V748M656.5 720V748M709.5 720V748M717.5 720V748M726.5 692V748M727.5 704V748M779.5 692V748M780.5 692V748M787.5 692V748M855.5 720V748M860.5 677V748M861.5 720V748M883.5 704V748M885.5 704V748M895.5 704V748M900.5 704V748M917.5 704V748M920.5 704V748M948.5 684V748M1005.5 677V748M1044.5 685V748M1047.5 692V748M1059.5 667V748M1061.5 677V748M1072.5 669V748M1076.5 675V748M1080.5 666V748M1081.5 675V748M1097.5 671V748M1119.5 690V748M1124.5 679V748M1125.5 689V748" stroke="#8a8a8a" stroke-width="1" fill="none"/><path d="M83.5 720V748M88.5 720V748M90.5 720V748M107.5 720V748M108.5 665V748M109.5 704V748M110.5 704V748M111.5 684V748M115.5 704V748M116.5 692V748M117.5 704V748M118.5 720V748M119.5 730V748M120.5 720V748M121.5 720V748M123.5 704V748M126.5 692V748M127.5 720V748M128.5 704V748M129.5 720V748M130.5 692V748M131.5 684V748M133.5 704V748M134.5 704V748M135.5 720V748M136.5 704V748M137.5 720V748M138.5 704V748M140.5 720V748M141.5 720V748M142.5 720V748M144.5 720V748M145.5 720V748M146.5 692V748M147.5 720V748M148.5 720V748M150.5 704V748M152.5 720V748M154.5 692V748M156.5 720V748M157.5 720V748M158.5 720V748M159.5 704V748M161.5 720V748M163.5 720V748M165.5 731V748M167.5 730V748M168.5 720V748M169.5 720V748M170.5 736V748M171.5 720V748M180.5 720V748M183.5 720V748M185.5 720V748M186.5 692V748M187.5 720V748M188.5 704V748M190.5 704V748M191.5 692V748M193.5 684V748M194.5 704V748M195.5 684V748M196.5 704V748M198.5 684V748M199.5 692V748M200.5 720V748M201.5 692V748M202.5 704V748M203.5 720V748M205.5 704V748M206.5 720V748M207.5 720V748M208.5 720V748M209.5 720V748M210.5 692V748M211.5 720V748M213.5 704V748M215.5 737V748M217.5 692V748M219.5 704V748M224.5 720V748M226.5 720V748M227.5 720V748M229.5 720V748M230.5 684V748M231.5 720V748M233.5 731V748M234.5 720V748M235.5 730V748M238.5 720V748M252.5 720V748M256.5 720V748M257.5 704V748M258.5 720V748M260.5 720V748M261.5 720V748M262.5 720V748M268.5 730V748M269.5 720V748M270.5 704V748M272.5 720V748M275.5 720V748M276.5 720V748M278.5 692V748M279.5 720V748M281.5 692V748M283.5 729V748M284.5 720V748M303.5 720V748M305.5 704V748M306.5 733V748M307.5 720V748M317.5 720V748M318.5 720V748M320.5 720V748M323.5 704V748M330.5 720V748M337.5 720V748M339.5 720V748M340.5 720V748M404.5 720V748M414.5 720V748M415.5 720V748M421.5 739V748M422.5 720V748M425.5 736V748M427.5 736V748M428.5 720V748M429.5 720V748M432.5 704V748M433.5 720V748M434.5 720V748M435.5 720V748M436.5 720V748M437.5 720V748M438.5 704V748M439.5 720V748M440.5 720V748M441.5 720V748M442.5 729V748M443.5 704V748M446.5 720V748M447.5 720V748M449.5 720V748M451.5 720V748M452.5 684V748M453.5 720V748M454.5 718V748M455.5 684V748M457.5 704V748M460.5 704V748M464.5 704V748M467.5 720V748M469.5 720V748M479.5 692V748M484.5 720V748M489.5 720V748M490.5 720V748M491.5 720V748M492.5 720V748M493.5 704V748M494.5 704V748M495.5 677V748M496.5 704V748M497.5 684V748M499.5 684V748M500.5 692V748M504.5 692V748M505.5 704V748M506.5 665V748M507.5 704V748M509.5 692V748M510.5 692V748M511.5 692V748M512.5 723V748M513.5 684V748M514.5 692V748M515.5 684V748M516.5 692V748M517.5 692V748M518.5 720V748M519.5 692V748M520.5 692V748M521.5 692V748M522.5 692V748M524.5 692V748M525.5 692V748M527.5 704V748M529.5 704V748M530.5 692V748M531.5 704V748M532.5 704V748M533.5 720V748M535.5 720V748M537.5 704V748M539.5 720V748M540.5 720V748M544.5 720V748M545.5 704V748M546.5 720V748M547.5 720V748M548.5 720V748M549.5 720V748M550.5 704V748M551.5 720V748M553.5 704V748M555.5 720V748M567.5 692V748M568.5 720V748M572.5 720V748M574.5 720V748M575.5 704V748M578.5 720V748M579.5 739V748M580.5 704V748M581.5 720V748M583.5 720V748M585.5 720V748M586.5 704V748M587.5 720V748M589.5 704V748M590.5 736V748M591.5 720V748M592.5 720V748M593.5 732V748M596.5 736V748M597.5 720V748M598.5 704V748M599.5 704V748M601.5 720V748M603.5 704V748M618.5 720V748M619.5 720V748M621.5 704V748M622.5 704V748M624.5 704V748M626.5 720V748M627.5 720V748M628.5 720V748M629.5 720V748M631.5 720V748M632.5 720V748M633.5 704V748M636.5 720V748M638.5 729V748M639.5 720V748M640.5 704V748M641.5 720V748M642.5 720V748M645.5 720V748M646.5 720V748M647.5 732V748M648.5 720V748M649.5 720V748M650.5 704V748M651.5 720V748M652.5 720V748M653.5 720V748M654.5 720V748M655.5 729V748M656.5 735V748M659.5 738V748M660.5 720V748M661.5 720V748M665.5 720V748M666.5 704V748M667.5 720V748M668.5 720V748M669.5 720V748M670.5 704V748M671.5 738V748M672.5 720V748M674.5 677V748M675.5 720V748M676.5 720V748M678.5 692V748M679.5 704V748M680.5 720V748M681.5 720V748M702.5 704V748M703.5 720V748M704.5 692V748M705.5 704V748M706.5 733V748M710.5 704V748M713.5 720V748M714.5 720V748M715.5 692V748M716.5 720V748M718.5 720V748M720.5 704V748M721.5 720V748M722.5 720V748M724.5 677V748M725.5 731V748M726.5 720V748M727.5 730V748M728.5 677V748M729.5 704V748M730.5 704V748M743.5 720V748M745.5 720V748M750.5 704V748M751.5 677V748M752.5 704V748M767.5 720V748M768.5 692V748M769.5 704V748M770.5 720V748M775.5 724V748M776.5 677V748M777.5 677V748M781.5 677V748M782.5 665V748M783.5 692V748M784.5 677V748M785.5 684V748M786.5 665V748M787.5 711V748M789.5 720V748M790.5 677V748M791.5 684V748M792.5 692V748M793.5 704V748M794.5 684V748M795.5 670V748M796.5 720V748M836.5 720V748M841.5 720V748M842.5 692V748M849.5 720V748M850.5 720V748M852.5 720V748M853.5 731V748M857.5 731V748M859.5 704V748M860.5 720V748M862.5 720V748M865.5 720V748M866.5 704V748M867.5 720V748M868.5 720V748M869.5 720V748M871.5 720V748M873.5 720V748M874.5 720V748M876.5 720V748M877.5 720V748M878.5 720V748M880.5 704V748M884.5 704V748M886.5 704V748M887.5 720V748M888.5 720V748M889.5 692V748M890.5 684V748M891.5 720V748M892.5 704V748M893.5 720V748M894.5 720V748M896.5 704V748M897.5 692V748M898.5 704V748M899.5 731V748M900.5 730V748M901.5 704V748M902.5 704V748M903.5 720V748M904.5 720V748M905.5 692V748M906.5 677V748M907.5 692V748M908.5 720V748M909.5 720V748M910.5 704V748M911.5 720V748M912.5 720V748M913.5 704V748M914.5 720V748M915.5 692V748M917.5 718V748M919.5 704V748M921.5 704V748M922.5 720V748M923.5 720V748M924.5 720V748M925.5 692V748M927.5 692V748M928.5 692V748M929.5 677V748M930.5 704V748M932.5 677V748M933.5 692V748M934.5 715V748M935.5 692V748M936.5 677V748M937.5 720V748M938.5 704V748M939.5 704V748M942.5 692V748M943.5 692V748M944.5 692V748M945.5 692V748M946.5 692V748M947.5 692V748M948.5 692V748M949.5 692V748M950.5 704V748M951.5 704V748M952.5 704V748M953.5 684V748M954.5 704V748M955.5 704V748M956.5 704V748M957.5 731V748M958.5 692V748M959.5 704V748M960.5 720V748M962.5 720V748M963.5 704V748M964.5 684V748M965.5 704V748M968.5 720V748M972.5 684V748M973.5 720V748M974.5 704V748M975.5 692V748M977.5 720V748M978.5 704V748M979.5 720V748M980.5 720V748M981.5 733V748M982.5 720V748M984.5 692V748M985.5 704V748M986.5 704V748M987.5 720V748M988.5 720V748M989.5 720V748M990.5 684V748M991.5 733V748M992.5 738V748M993.5 704V748M994.5 720V748M996.5 692V748M997.5 692V748M998.5 704V748M999.5 704V748M1001.5 704V748M1003.5 720V748M1004.5 692V748M1005.5 720V748M1006.5 720V748M1007.5 720V748M1008.5 692V748M1009.5 720V748M1011.5 720V748M1013.5 720V748M1014.5 720V748M1015.5 692V748M1016.5 720V748M1017.5 720V748M1018.5 720V748M1019.5 720V748M1043.5 690V748M1045.5 665V748M1046.5 686V748M1048.5 691V748M1049.5 689V748M1050.5 690V748M1051.5 692V748M1053.5 669V748M1054.5 676V748M1055.5 668V748M1056.5 665V748M1058.5 671V748M1059.5 701V748M1060.5 673V748M1062.5 672V748M1063.5 643V748M1064.5 658V748M1065.5 675V748M1066.5 649V748M1067.5 661V748M1068.5 663V748M1069.5 675V748M1071.5 677V748M1072.5 709V748M1074.5 711V748M1075.5 643V748M1077.5 668V748M1078.5 672V748M1079.5 662V748M1081.5 719V748M1082.5 665V748M1083.5 669V748M1084.5 669V748M1085.5 670V748M1086.5 667V748M1087.5 671V748M1089.5 649V748M1090.5 669V748M1091.5 672V748M1093.5 671V748M1095.5 670V748M1096.5 649V748M1098.5 668V748M1099.5 668V748M1100.5 682V748M1101.5 677V748M1102.5 672V748M1103.5 671V748M1104.5 673V748M1105.5 670V748M1106.5 672V748M1107.5 680V748M1108.5 678V748M1109.5 672V748M1111.5 683V748M1112.5 673V748M1113.5 679V748M1114.5 684V748M1115.5 680V748M1117.5 691V748M1118.5 679V748M1121.5 670V748M1122.5 691V748M1123.5 689V748M1125.5 707V748M1127.5 672V748M1128.5 673V748M1130.5 671V748M1131.5 682V748M1132.5 666V748M1133.5 692V748M1134.5 692V748M1135.5 692V748M1136.5 692V748M1137.5 692V748" stroke="#080808" stroke-width="1" fill="none"/>
<path d="M81 747.5H1138" stroke="#000" stroke-width="1"/>
<path d="M601.5 643 V748 M617.5 643 V748" stroke="#ff2020" stroke-width="1"/>
<path d="M38 639.5 H1181 M1180.5 639 V752" fill="none" stroke="#9a9a9a" stroke-width="1"/>
<path d="M38 638.5 H1181" fill="none" stroke="#d8d8d8" stroke-width="1"/>
<path d="M38.5 639.0 V752.0 M39.5 639.0 V752.0" fill="none" stroke="#a0a0a0" stroke-width="1"/>
<path d="M38 751.5 H1181" fill="none" stroke="#2a2a2a" stroke-width="1"/>
<path d="M38.5 665 V748 M39.5 665 V748" stroke="#4a4a4a" stroke-width="1" fill="none"/>
<path d="M34 665.5 H40" stroke="#333" stroke-width="1"/>
<text transform="translate(29.3 665.2) rotate(-90)" font-size="7.2" text-anchor="middle" stroke="#000" stroke-width="0.2">3</text>
<path d="M34 692.5 H40" stroke="#333" stroke-width="1"/>
<text transform="translate(29.3 692.2) rotate(-90)" font-size="7.2" text-anchor="middle" stroke="#000" stroke-width="0.2">2</text>
<path d="M34 719.5 H40" stroke="#333" stroke-width="1"/>
<text transform="translate(29.3 719.8) rotate(-90)" font-size="7.2" text-anchor="middle" stroke="#000" stroke-width="0.2">1</text>
<path d="M34 747.5 H40" stroke="#333" stroke-width="1"/>
<text transform="translate(29.3 747.1) rotate(-90)" font-size="7.2" text-anchor="middle" stroke="#000" stroke-width="0.2">0</text>
<text transform="translate(9.6 695.1) rotate(-90)" font-size="8.6" text-anchor="middle" textLength="52" lengthAdjust="spacingAndGlyphs">log2 tag density</text>
<path d="M156.0 752 V757" stroke="#333" stroke-width="1"/>
<text x="157.3" y="770.0" font-size="6.9" text-anchor="middle" stroke="#000" stroke-width="0.2">180000</text>
<path d="M509.0 752 V757" stroke="#888" stroke-width="1"/>
<text x="510.0" y="770.0" font-size="6.9" text-anchor="middle" stroke="#000" stroke-width="0.2">185000</text>
<path d="M861.0 752 V757" stroke="#333" stroke-width="1"/>
<text x="862.3" y="770.0" font-size="6.9" text-anchor="middle" stroke="#000" stroke-width="0.2">190000</text>
<text x="610" y="823.0" font-size="8.8" font-weight="bold" text-anchor="middle" textLength="113.2" lengthAdjust="spacing">ChipSeq PolII, xrn1 delta</text>
<path d="M91.5 937V948M103.5 937V948M121.5 917V948M122.5 917V948M149.5 926V948M150.5 926V948M154.5 926V948M157.5 926V948M162.5 926V948M163.5 926V948M180.5 904V948M253.5 937V948M266.5 937V948M270.5 917V948M337.5 926V948M339.5 926V948M414.5 917V948M484.5 937V948M485.5 904V948M488.5 937V948M491.5 926V948M496.5 926V948M498.5 917V948M502.5 917V948M517.5 904V948M521.5 917V948M523.5 904V948M532.5 904V948M538.5 898V948M549.5 926V948M552.5 937V948M594.5 910V948M599.5 926V948M601.5 926V948M604.5 926V948M617.5 926V948M619.5 937V948M632.5 937V948M676.5 937V948M677.5 937V948M701.5 917V948M704.5 937V948M718.5 937V948M723.5 926V948M729.5 904V948M837.5 937V948M845.5 926V948M866.5 917V948M882.5 926V948M889.5 898V948M895.5 917V948M901.5 910V948M913.5 890V948M914.5 917V948M933.5 898V948M968.5 917V948M1012.5 926V948M1020.5 926V948M1060.5 863V948M1068.5 880V948M1070.5 871V948M1079.5 864V948M1083.5 869V948M1096.5 866V948M1107.5 892V948M1109.5 889V948M1113.5 892V948M1126.5 886V948" stroke="#4a4a4a" stroke-width="1" fill="none"/><path d="M94.5 937V948M111.5 926V948M113.5 926V948M125.5 937V948M137.5 910V948M142.5 926V948M145.5 937V948M153.5 926V948M171.5 937V948M176.5 937V948M222.5 910V948M234.5 937V948M264.5 937V948M294.5 937V948M305.5 937V948M328.5 917V948M390.5 937V948M425.5 937V948M427.5 937V948M442.5 917V948M449.5 898V948M457.5 904V948M471.5 926V948M489.5 926V948M490.5 926V948M508.5 926V948M515.5 894V948M516.5 904V948M537.5 917V948M539.5 917V948M580.5 926V948M589.5 937V948M600.5 917V948M602.5 926V948M603.5 926V948M620.5 926V948M621.5 917V948M671.5 937V948M672.5 937V948M717.5 926V948M720.5 917V948M747.5 898V948M841.5 926V948M844.5 926V948M851.5 937V948M852.5 926V948M854.5 926V948M860.5 937V948M864.5 926V948M865.5 917V948M879.5 926V948M888.5 910V948M890.5 917V948M893.5 917V948M898.5 910V948M903.5 910V948M950.5 910V948M967.5 894V948M975.5 926V948M977.5 904V948M978.5 937V948M979.5 926V948M981.5 926V948M983.5 937V948M986.5 910V948M996.5 917V948M1005.5 917V948M1057.5 898V948M1069.5 885V948M1077.5 862V948M1080.5 865V948M1085.5 882V948M1105.5 873V948M1115.5 890V948M1119.5 885V948" stroke="#6a6a6a" stroke-width="1" fill="none"/><path d="M87.5 937V948M104.5 937V948M118.5 926V948M135.5 926V948M147.5 926V948M148.5 917V948M156.5 937V948M158.5 926V948M160.5 926V948M181.5 904V948M182.5 904V948M194.5 917V948M196.5 917V948M206.5 926V948M208.5 937V948M258.5 937V948M332.5 937V948M374.5 926V948M432.5 904V948M446.5 898V948M450.5 898V948M461.5 926V948M483.5 937V948M486.5 937V948M573.5 926V948M579.5 937V948M593.5 904V948M605.5 926V948M618.5 926V948M652.5 926V948M666.5 937V948M675.5 926V948M703.5 937V948M775.5 917V948M868.5 917V948M870.5 917V948M871.5 917V948M880.5 910V948M925.5 917V948M940.5 910V948M945.5 917V948M956.5 910V948M965.5 917V948M970.5 917V948M973.5 926V948M1017.5 926V948M1051.5 890V948M1056.5 885V948M1064.5 871V948M1084.5 871V948M1088.5 857V948M1090.5 866V948M1125.5 893V948M1136.5 918V948" stroke="#8a8a8a" stroke-width="1" fill="none"/><path d="M83.5 910V948M84.5 937V948M85.5 937V948M86.5 926V948M89.5 937V948M90.5 937V948M93.5 937V948M102.5 937V948M103.5 941V948M105.5 904V948M106.5 926V948M107.5 917V948M108.5 917V948M109.5 910V948M110.5 917V948M112.5 926V948M114.5 926V948M115.5 917V948M116.5 917V948M117.5 917V948M120.5 917V948M121.5 928V948M123.5 917V948M124.5 926V948M127.5 917V948M128.5 926V948M129.5 917V948M130.5 904V948M132.5 926V948M133.5 926V948M134.5 937V948M136.5 926V948M137.5 926V948M138.5 926V948M139.5 910V948M140.5 937V948M141.5 917V948M143.5 926V948M144.5 937V948M145.5 942V948M148.5 937V948M149.5 941V948M150.5 937V948M151.5 937V948M152.5 910V948M154.5 944V948M155.5 937V948M156.5 944V948M157.5 937V948M158.5 937V948M159.5 937V948M161.5 937V948M163.5 937V948M164.5 926V948M165.5 937V948M166.5 926V948M167.5 937V948M168.5 937V948M169.5 937V948M170.5 926V948M171.5 941V948M177.5 937V948M178.5 937V948M179.5 937V948M181.5 937V948M183.5 937V948M184.5 937V948M185.5 937V948M186.5 926V948M187.5 926V948M188.5 926V948M189.5 910V948M190.5 937V948M191.5 898V948M192.5 926V948M193.5 917V948M195.5 904V948M197.5 926V948M198.5 898V948M199.5 926V948M200.5 910V948M201.5 917V948M202.5 904V948M203.5 926V948M204.5 926V948M207.5 937V948M208.5 943V948M209.5 937V948M210.5 917V948M219.5 937V948M220.5 937V948M229.5 926V948M230.5 937V948M231.5 926V948M232.5 917V948M233.5 937V948M235.5 937V948M239.5 937V948M243.5 937V948M246.5 937V948M249.5 937V948M256.5 937V948M257.5 937V948M258.5 940V948M260.5 937V948M261.5 937V948M263.5 937V948M264.5 942V948M265.5 937V948M266.5 941V948M269.5 926V948M272.5 937V948M301.5 937V948M314.5 937V948M329.5 926V948M330.5 926V948M338.5 937V948M340.5 917V948M375.5 926V948M413.5 926V948M422.5 926V948M424.5 937V948M425.5 942V948M426.5 937V948M427.5 940V948M428.5 926V948M429.5 917V948M430.5 926V948M431.5 926V948M432.5 937V948M433.5 926V948M434.5 926V948M435.5 926V948M436.5 926V948M437.5 917V948M438.5 937V948M439.5 926V948M440.5 926V948M441.5 890V948M443.5 904V948M444.5 937V948M445.5 917V948M446.5 926V948M447.5 926V948M448.5 917V948M449.5 917V948M450.5 926V948M451.5 917V948M453.5 898V948M454.5 917V948M455.5 917V948M456.5 917V948M457.5 917V948M458.5 926V948M459.5 917V948M461.5 938V948M462.5 926V948M463.5 926V948M464.5 926V948M465.5 917V948M466.5 910V948M467.5 926V948M468.5 926V948M469.5 926V948M470.5 917V948M472.5 926V948M482.5 926V948M492.5 926V948M493.5 926V948M494.5 910V948M495.5 926V948M497.5 910V948M499.5 917V948M500.5 917V948M501.5 917V948M503.5 904V948M504.5 926V948M505.5 904V948M506.5 917V948M507.5 894V948M509.5 890V948M510.5 898V948M511.5 904V948M512.5 890V948M513.5 890V948M514.5 917V948M515.5 904V948M516.5 929V948M517.5 927V948M518.5 886V948M519.5 904V948M520.5 904V948M522.5 898V948M524.5 904V948M525.5 879V948M526.5 904V948M527.5 917V948M528.5 917V948M529.5 917V948M530.5 890V948M531.5 926V948M532.5 917V948M533.5 917V948M534.5 917V948M536.5 917V948M537.5 933V948M538.5 917V948M539.5 927V948M540.5 910V948M541.5 917V948M542.5 917V948M543.5 926V948M544.5 904V948M545.5 917V948M546.5 926V948M547.5 910V948M548.5 926V948M550.5 917V948M551.5 926V948M557.5 937V948M559.5 937V948M566.5 937V948M568.5 937V948M576.5 937V948M578.5 917V948M579.5 944V948M580.5 937V948M582.5 937V948M585.5 937V948M586.5 926V948M587.5 917V948M589.5 943V948M590.5 917V948M591.5 937V948M592.5 926V948M593.5 926V948M594.5 926V948M596.5 937V948M597.5 937V948M599.5 937V948M600.5 937V948M601.5 937V948M604.5 937V948M605.5 937V948M607.5 926V948M611.5 926V948M613.5 937V948M615.5 917V948M616.5 937V948M617.5 937V948M618.5 937V948M619.5 942V948M620.5 937V948M621.5 937V948M623.5 910V948M624.5 937V948M625.5 937V948M628.5 926V948M629.5 917V948M630.5 937V948M632.5 943V948M634.5 937V948M635.5 937V948M636.5 937V948M640.5 937V948M641.5 926V948M642.5 937V948M643.5 917V948M648.5 937V948M650.5 937V948M656.5 937V948M667.5 937V948M668.5 926V948M669.5 937V948M670.5 937V948M673.5 926V948M674.5 937V948M675.5 937V948M676.5 941V948M678.5 917V948M679.5 937V948M680.5 937V948M682.5 937V948M705.5 926V948M709.5 917V948M714.5 937V948M715.5 926V948M716.5 937V948M717.5 937V948M719.5 926V948M720.5 937V948M721.5 926V948M722.5 926V948M724.5 904V948M725.5 917V948M726.5 926V948M727.5 926V948M728.5 926V948M729.5 926V948M730.5 917V948M744.5 937V948M745.5 937V948M750.5 926V948M751.5 886V948M752.5 898V948M753.5 910V948M767.5 904V948M768.5 904V948M769.5 904V948M770.5 910V948M776.5 904V948M777.5 898V948M778.5 917V948M779.5 917V948M780.5 894V948M781.5 886V948M782.5 894V948M783.5 917V948M784.5 898V948M785.5 898V948M786.5 904V948M787.5 926V948M790.5 898V948M791.5 904V948M792.5 917V948M793.5 910V948M794.5 894V948M795.5 926V948M796.5 926V948M814.5 926V948M841.5 938V948M842.5 926V948M845.5 940V948M846.5 926V948M847.5 917V948M848.5 917V948M849.5 917V948M850.5 904V948M851.5 941V948M852.5 936V948M853.5 917V948M854.5 934V948M856.5 937V948M857.5 926V948M858.5 917V948M860.5 941V948M861.5 926V948M862.5 926V948M863.5 917V948M865.5 935V948M868.5 934V948M869.5 937V948M871.5 936V948M872.5 926V948M873.5 917V948M874.5 926V948M875.5 917V948M876.5 937V948M877.5 917V948M878.5 917V948M880.5 926V948M881.5 926V948M883.5 926V948M884.5 917V948M885.5 917V948M886.5 917V948M887.5 917V948M888.5 931V948M889.5 917V948M891.5 926V948M892.5 898V948M893.5 930V948M894.5 910V948M896.5 898V948M897.5 910V948M898.5 931V948M899.5 917V948M900.5 917V948M901.5 934V948M902.5 917V948M903.5 917V948M904.5 917V948M905.5 910V948M906.5 917V948M907.5 910V948M908.5 898V948M909.5 898V948M910.5 898V948M911.5 910V948M912.5 910V948M913.5 917V948M915.5 898V948M916.5 917V948M917.5 917V948M918.5 926V948M919.5 910V948M920.5 910V948M921.5 910V948M924.5 904V948M926.5 917V948M927.5 917V948M928.5 876V948M929.5 910V948M930.5 910V948M931.5 910V948M932.5 898V948M933.5 917V948M934.5 898V948M935.5 910V948M936.5 910V948M937.5 910V948M938.5 886V948M939.5 910V948M941.5 917V948M942.5 910V948M943.5 910V948M944.5 910V948M945.5 937V948M946.5 894V948M947.5 910V948M948.5 904V948M951.5 910V948M953.5 917V948M954.5 917V948M955.5 917V948M956.5 923V948M957.5 910V948M958.5 926V948M959.5 910V948M961.5 910V948M962.5 917V948M963.5 910V948M964.5 910V948M966.5 917V948M967.5 910V948M968.5 927V948M969.5 910V948M971.5 910V948M972.5 904V948M976.5 926V948M978.5 940V948M980.5 926V948M982.5 937V948M984.5 917V948M985.5 937V948M986.5 917V948M987.5 926V948M988.5 937V948M989.5 926V948M990.5 917V948M991.5 917V948M993.5 917V948M994.5 937V948M995.5 937V948M997.5 904V948M998.5 937V948M999.5 937V948M1000.5 904V948M1001.5 926V948M1003.5 910V948M1004.5 937V948M1005.5 928V948M1006.5 899V948M1008.5 917V948M1009.5 937V948M1010.5 917V948M1011.5 917V948M1012.5 932V948M1013.5 917V948M1014.5 926V948M1015.5 926V948M1016.5 926V948M1019.5 926V948M1042.5 887V948M1043.5 886V948M1044.5 907V948M1045.5 907V948M1046.5 907V948M1047.5 907V948M1048.5 884V948M1049.5 889V948M1050.5 892V948M1051.5 914V948M1053.5 886V948M1054.5 880V948M1055.5 880V948M1056.5 927V948M1057.5 924V948M1058.5 862V948M1059.5 863V948M1060.5 919V948M1061.5 871V948M1062.5 876V948M1063.5 876V948M1065.5 864V948M1066.5 872V948M1067.5 866V948M1070.5 911V948M1071.5 859V948M1072.5 869V948M1073.5 854V948M1074.5 872V948M1075.5 879V948M1076.5 879V948M1078.5 871V948M1079.5 897V948M1081.5 875V948M1086.5 858V948M1087.5 869V948M1089.5 871V948M1091.5 858V948M1093.5 876V948M1094.5 866V948M1095.5 860V948M1097.5 875V948M1098.5 857V948M1099.5 877V948M1100.5 881V948M1101.5 874V948M1102.5 884V948M1103.5 884V948M1104.5 877V948M1106.5 880V948M1110.5 880V948M1111.5 869V948M1112.5 889V948M1114.5 902V948M1115.5 925V948M1116.5 895V948M1117.5 889V948M1119.5 908V948M1120.5 889V948M1121.5 887V948M1122.5 879V948M1123.5 879V948M1124.5 901V948M1125.5 930V948M1126.5 921V948M1127.5 900V948M1128.5 874V948M1129.5 918V948M1130.5 917V948M1131.5 906V948M1132.5 903V948M1134.5 915V948M1135.5 912V948M1136.5 935V948M1137.5 915V948" stroke="#080808" stroke-width="1" fill="none"/>
<path d="M81 947.5H1138" stroke="#000" stroke-width="1"/>
<path d="M601.5 843 V948 M617.5 843 V948" stroke="#ff2020" stroke-width="1"/>
<path d="M38 839.5 H1181 M1180.5 839 V952" fill="none" stroke="#9a9a9a" stroke-width="1"/>
<path d="M38 838.5 H1181" fill="none" stroke="#d8d8d8" stroke-width="1"/>
<path d="M38.5 839.0 V952.0 M39.5 839.0 V952.0" fill="none" stroke="#a0a0a0" stroke-width="1"/>
<path d="M38 951.5 H1181" fill="none" stroke="#2a2a2a" stroke-width="1"/>
<path d="M38.5 865 V948 M39.5 865 V948" stroke="#4a4a4a" stroke-width="1" fill="none"/>
<path d="M34 865.5 H40" stroke="#333" stroke-width="1"/>
<text transform="translate(29.3 865.4) rotate(-90)" font-size="7.2" text-anchor="middle" stroke="#000" stroke-width="0.2">3</text>
<path d="M34 892.5 H40" stroke="#333" stroke-width="1"/>
<text transform="translate(29.3 892.3) rotate(-90)" font-size="7.2" text-anchor="middle" stroke="#000" stroke-width="0.2">2</text>
<path d="M34 919.5 H40" stroke="#333" stroke-width="1"/>
<text transform="translate(29.3 919.8) rotate(-90)" font-size="7.2" text-anchor="middle" stroke="#000" stroke-width="0.2">1</text>
<path d="M34 947.5 H40" stroke="#333" stroke-width="1"/>
<text transform="translate(29.3 947.3) rotate(-90)" font-size="7.2" text-anchor="middle" stroke="#000" stroke-width="0.2">0</text>
<text transform="translate(9.6 895.1) rotate(-90)" font-size="8.6" text-anchor="middle" textLength="52" lengthAdjust="spacingAndGlyphs">log2 tag density</text>
<path d="M156.0 952 V957" stroke="#333" stroke-width="1"/>
<text x="157.3" y="970.0" font-size="6.9" text-anchor="middle" stroke="#000" stroke-width="0.2">180000</text>
<path d="M509.0 952 V957" stroke="#888" stroke-width="1"/>
<text x="510.0" y="970.0" font-size="6.9" text-anchor="middle" stroke="#000" stroke-width="0.2">185000</text>
<path d="M861.0 952 V957" stroke="#333" stroke-width="1"/>
<text x="862.3" y="970.0" font-size="6.9" text-anchor="middle" stroke="#000" stroke-width="0.2">190000</text>
<text x="610" y="1023.0" font-size="8.8" font-weight="bold" text-anchor="middle" textLength="145.1" lengthAdjust="spacing">Ratio ChipSeq PolII, xrn1 vs WT</text>
<path d="M81.5 1081V1087M82.5 1082V1087M83.5 1083V1087M84.5 1084V1087M85.5 1083V1087M88.5 1086V1088M89.5 1083V1087M90.5 1079V1087M91.5 1075V1087M92.5 1075V1087M93.5 1075V1087M94.5 1078V1087M95.5 1078V1087M96.5 1081V1087M97.5 1084V1087M98.5 1086V1088M99.5 1086V1090M100.5 1086V1089M101.5 1085V1087M102.5 1082V1087M103.5 1084V1087M104.5 1086V1088M105.5 1086V1091M106.5 1086V1091M107.5 1086V1092M108.5 1086V1092M109.5 1086V1093M110.5 1086V1095M111.5 1086V1095M112.5 1086V1093M113.5 1086V1091M114.5 1086V1090M115.5 1086V1088M117.5 1085V1087M118.5 1083V1087M119.5 1083V1087M120.5 1081V1087M121.5 1081V1087M122.5 1082V1087M123.5 1082V1087M124.5 1084V1087M125.5 1083V1087M126.5 1086V1087M127.5 1086V1087M129.5 1086V1089M130.5 1086V1089M131.5 1086V1090M132.5 1086V1089M133.5 1086V1089M135.5 1086V1088M136.5 1086V1089M137.5 1086V1089M138.5 1086V1092M139.5 1086V1092M140.5 1086V1094M141.5 1086V1096M142.5 1086V1095M143.5 1086V1091M144.5 1086V1092M145.5 1086V1090M146.5 1086V1089M147.5 1086V1089M149.5 1085V1087M150.5 1084V1087M151.5 1086V1087M152.5 1086V1087M154.5 1086V1090M155.5 1086V1089M156.5 1086V1090M157.5 1086V1087M158.5 1086V1087M159.5 1083V1087M160.5 1083V1087M161.5 1083V1087M163.5 1086V1089M164.5 1086V1092M165.5 1086V1095M166.5 1086V1095M167.5 1086V1093M168.5 1086V1093M169.5 1086V1092M170.5 1086V1092M171.5 1086V1091M172.5 1086V1090M173.5 1085V1087M174.5 1081V1087M175.5 1076V1087M176.5 1077V1087M177.5 1079V1087M178.5 1080V1087M179.5 1082V1087M180.5 1085V1087M182.5 1086V1089M183.5 1086V1090M184.5 1086V1092M185.5 1086V1092M186.5 1086V1091M187.5 1086V1091M188.5 1086V1091M189.5 1086V1089M190.5 1086V1090M191.5 1086V1089M192.5 1086V1089M193.5 1086V1089M194.5 1086V1090M195.5 1086V1091M196.5 1086V1094M197.5 1086V1093M198.5 1086V1094M199.5 1086V1092M200.5 1086V1091M201.5 1086V1090M202.5 1086V1088M203.5 1085V1087M204.5 1085V1087M207.5 1086V1088M208.5 1086V1089M209.5 1086V1091M210.5 1086V1092M211.5 1086V1093M212.5 1086V1096M213.5 1086V1098M214.5 1086V1099M215.5 1086V1101M216.5 1086V1100M217.5 1086V1098M218.5 1086V1100M219.5 1086V1100M220.5 1086V1099M221.5 1086V1098M222.5 1086V1099M223.5 1086V1099M224.5 1086V1098M225.5 1086V1097M226.5 1086V1099M227.5 1086V1097M228.5 1086V1098M229.5 1086V1097M230.5 1086V1098M231.5 1086V1098M232.5 1086V1099M233.5 1086V1099M234.5 1086V1098M235.5 1086V1099M236.5 1086V1100M237.5 1086V1100M238.5 1086V1103M239.5 1086V1104M240.5 1086V1105M241.5 1086V1105M242.5 1086V1103M243.5 1086V1104M244.5 1086V1104M245.5 1086V1102M246.5 1086V1102M247.5 1086V1102M248.5 1086V1101M249.5 1086V1101M250.5 1086V1099M251.5 1086V1101M252.5 1086V1102M253.5 1086V1102M254.5 1086V1102M255.5 1086V1103M256.5 1086V1103M257.5 1086V1104M258.5 1086V1103M259.5 1086V1104M260.5 1086V1105M261.5 1086V1108M262.5 1086V1108M263.5 1086V1108M264.5 1086V1110M265.5 1086V1113M266.5 1086V1112M267.5 1086V1112M268.5 1086V1111M269.5 1086V1110M270.5 1086V1110M271.5 1086V1110M272.5 1086V1110M273.5 1086V1110M274.5 1086V1110M275.5 1086V1110M276.5 1086V1114M277.5 1086V1115M278.5 1086V1116M279.5 1086V1119M280.5 1086V1119M281.5 1086V1117M282.5 1086V1118M283.5 1086V1116M284.5 1086V1115M285.5 1086V1114M286.5 1086V1114M287.5 1086V1114M288.5 1086V1113M289.5 1086V1113M290.5 1086V1112M291.5 1086V1111M292.5 1086V1111M293.5 1086V1109M294.5 1086V1109M295.5 1086V1109M296.5 1086V1109M297.5 1086V1108M298.5 1086V1108M299.5 1086V1108M300.5 1086V1108M301.5 1086V1110M302.5 1086V1110M303.5 1086V1110M304.5 1086V1110M305.5 1086V1109M306.5 1086V1110M307.5 1086V1109M308.5 1086V1108M309.5 1086V1108M310.5 1086V1106M311.5 1086V1106M312.5 1086V1105M313.5 1086V1105M314.5 1086V1104M315.5 1086V1103M316.5 1086V1105M317.5 1086V1105M318.5 1086V1105M319.5 1086V1105M320.5 1086V1104M321.5 1086V1107M322.5 1086V1107M323.5 1086V1103M324.5 1086V1101M325.5 1086V1098M326.5 1086V1095M327.5 1086V1094M328.5 1086V1097M329.5 1086V1097M330.5 1086V1099M331.5 1086V1104M332.5 1086V1104M333.5 1086V1106M334.5 1086V1110M335.5 1086V1108M336.5 1086V1104M337.5 1086V1099M338.5 1086V1100M339.5 1086V1101M340.5 1086V1099M341.5 1086V1100M342.5 1086V1100M343.5 1086V1099M359.5 1079V1087M359.5 1086V1105M360.5 1064V1087M361.5 1058V1087M362.5 1047V1087M363.5 1056V1087M364.5 1068V1087M365.5 1074V1087M366.5 1073V1087M367.5 1076V1087M368.5 1078V1087M369.5 1080V1087M370.5 1086V1089M371.5 1077V1087M372.5 1073V1087M373.5 1069V1087M374.5 1073V1087M375.5 1076V1087M376.5 1076V1087M377.5 1063V1087M378.5 1060V1087M379.5 1061V1087M380.5 1073V1087M381.5 1077V1087M382.5 1078V1087M383.5 1080V1087M384.5 1086V1088M385.5 1086V1100M386.5 1086V1103M387.5 1086V1098M388.5 1086V1107M389.5 1086V1110M390.5 1086V1111M391.5 1086V1109M392.5 1086V1113M393.5 1086V1145M394.5 1086V1118M400.5 1086V1117M401.5 1086V1148M402.5 1086V1132M403.5 1086V1130M404.5 1086V1121M405.5 1086V1111M406.5 1086V1106M407.5 1086V1106M408.5 1084V1087M409.5 1086V1089M410.5 1086V1093M411.5 1086V1093M412.5 1086V1094M413.5 1086V1094M414.5 1086V1094M415.5 1086V1094M416.5 1086V1095M417.5 1086V1099M418.5 1086V1099M419.5 1086V1098M420.5 1086V1098M421.5 1086V1093M422.5 1086V1091M423.5 1086V1089M424.5 1086V1088M425.5 1084V1087M426.5 1081V1087M427.5 1080V1087M428.5 1082V1087M429.5 1083V1087M430.5 1083V1087M431.5 1084V1087M432.5 1082V1087M433.5 1082V1087M434.5 1082V1087M435.5 1080V1087M436.5 1079V1087M437.5 1077V1087M438.5 1077V1087M439.5 1077V1087M440.5 1076V1087M441.5 1076V1087M442.5 1077V1087M443.5 1078V1087M444.5 1078V1087M445.5 1078V1087M446.5 1079V1087M447.5 1081V1087M448.5 1081V1087M449.5 1082V1087M450.5 1083V1087M451.5 1085V1087M452.5 1086V1087M453.5 1085V1087M454.5 1085V1087M455.5 1082V1087M456.5 1084V1087M457.5 1083V1087M458.5 1082V1087M459.5 1080V1087M460.5 1079V1087M461.5 1079V1087M462.5 1079V1087M463.5 1077V1087M464.5 1075V1087M465.5 1074V1087M466.5 1072V1087M467.5 1071V1087M468.5 1071V1087M469.5 1067V1087M470.5 1069V1087M471.5 1072V1087M472.5 1073V1087M473.5 1073V1087M474.5 1075V1087M475.5 1077V1087M476.5 1078V1087M477.5 1081V1087M478.5 1080V1087M479.5 1082V1087M480.5 1084V1087M481.5 1082V1087M482.5 1082V1087M483.5 1081V1087M484.5 1081V1087M485.5 1084V1087M486.5 1086V1087M487.5 1086V1091M488.5 1086V1091M489.5 1086V1094M490.5 1086V1096M491.5 1086V1096M492.5 1086V1095M493.5 1086V1096M494.5 1086V1095M495.5 1086V1094M496.5 1086V1093M497.5 1086V1094M498.5 1086V1094M499.5 1086V1094M500.5 1086V1094M501.5 1086V1093M502.5 1086V1093M503.5 1086V1095M504.5 1086V1094M505.5 1086V1094M506.5 1086V1092M507.5 1086V1091M508.5 1086V1090M509.5 1086V1089M510.5 1085V1087M511.5 1084V1087M512.5 1084V1087M513.5 1084V1087M514.5 1083V1087M515.5 1084V1087M517.5 1084V1087M518.5 1085V1087M519.5 1084V1087M520.5 1085V1087M524.5 1086V1088M526.5 1086V1090M527.5 1086V1091M528.5 1086V1092M529.5 1086V1091M530.5 1086V1091M531.5 1086V1089M532.5 1086V1088M533.5 1085V1087M534.5 1084V1087M535.5 1082V1087M536.5 1083V1087M537.5 1082V1087M538.5 1080V1087M539.5 1081V1087M540.5 1080V1087M541.5 1078V1087M542.5 1077V1087M543.5 1077V1087M544.5 1078V1087M545.5 1079V1087M546.5 1081V1087M547.5 1081V1087M548.5 1081V1087M549.5 1082V1087M550.5 1082V1087M551.5 1085V1087M552.5 1084V1087M553.5 1086V1087M554.5 1086V1088M555.5 1086V1090M556.5 1086V1090M557.5 1086V1092M558.5 1086V1092M559.5 1086V1093M560.5 1086V1093M561.5 1086V1093M562.5 1086V1088M563.5 1084V1087M564.5 1083V1087M565.5 1084V1087M567.5 1086V1089M568.5 1086V1091M569.5 1086V1093M570.5 1086V1094M571.5 1086V1093M572.5 1086V1093M573.5 1086V1092M574.5 1086V1092M575.5 1086V1093M576.5 1086V1094M577.5 1086V1093M578.5 1086V1094M579.5 1086V1094M580.5 1086V1094M581.5 1086V1097M582.5 1086V1098M583.5 1086V1095M584.5 1086V1094M585.5 1086V1095M586.5 1086V1094M587.5 1086V1094M588.5 1086V1093M589.5 1086V1092M590.5 1086V1091M591.5 1086V1091M592.5 1086V1094M593.5 1086V1095M594.5 1086V1096M595.5 1086V1097M596.5 1086V1099M597.5 1086V1100M598.5 1086V1102M599.5 1086V1102M600.5 1086V1096M601.5 1086V1094M602.5 1086V1089M604.5 1084V1087M606.5 1086V1088M607.5 1086V1090M608.5 1086V1093M609.5 1086V1094M610.5 1086V1097M611.5 1086V1098M612.5 1086V1096M613.5 1086V1092M614.5 1086V1090M615.5 1086V1088M616.5 1084V1087M617.5 1082V1087M618.5 1082V1087M619.5 1085V1087M621.5 1086V1089M622.5 1086V1091M623.5 1086V1093M624.5 1086V1092M625.5 1086V1095M626.5 1086V1096M627.5 1086V1096M628.5 1086V1097M629.5 1086V1095M630.5 1086V1097M631.5 1086V1097M632.5 1086V1096M633.5 1086V1095M634.5 1086V1094M635.5 1086V1094M636.5 1086V1095M637.5 1086V1097M638.5 1086V1095M639.5 1086V1098M640.5 1086V1097M641.5 1086V1098M642.5 1086V1099M643.5 1086V1099M644.5 1086V1098M645.5 1086V1099M646.5 1086V1101M647.5 1086V1100M648.5 1086V1101M649.5 1086V1103M650.5 1086V1101M651.5 1086V1102M652.5 1086V1101M653.5 1086V1100M654.5 1086V1101M655.5 1086V1100M656.5 1086V1101M657.5 1086V1100M658.5 1086V1100M659.5 1086V1100M660.5 1086V1101M661.5 1086V1103M662.5 1086V1106M663.5 1086V1106M664.5 1086V1107M665.5 1086V1105M666.5 1086V1103M667.5 1086V1099M668.5 1086V1102M669.5 1086V1103M670.5 1086V1103M671.5 1086V1102M672.5 1086V1103M673.5 1086V1105M674.5 1086V1104M675.5 1086V1105M676.5 1086V1102M677.5 1086V1101M678.5 1086V1102M679.5 1086V1100M680.5 1086V1101M681.5 1086V1100M682.5 1086V1100M683.5 1086V1091M684.5 1075V1087M684.5 1086V1105M697.5 1086V1121M698.5 1086V1097M699.5 1086V1098M700.5 1086V1099M701.5 1086V1098M702.5 1086V1099M703.5 1086V1099M704.5 1086V1099M705.5 1086V1100M706.5 1086V1100M707.5 1086V1100M708.5 1086V1099M709.5 1086V1099M710.5 1086V1099M711.5 1086V1098M712.5 1086V1099M713.5 1086V1097M714.5 1086V1098M715.5 1086V1097M716.5 1086V1098M717.5 1086V1098M718.5 1086V1098M719.5 1086V1098M720.5 1086V1098M721.5 1086V1099M722.5 1086V1098M723.5 1086V1099M724.5 1086V1099M725.5 1086V1100M726.5 1086V1099M727.5 1086V1097M728.5 1086V1099M729.5 1086V1098M730.5 1086V1097M731.5 1086V1094M732.5 1084V1087M733.5 1086V1090M734.5 1086V1096M735.5 1086V1095M736.5 1086V1120M737.5 1079V1087M738.5 1070V1087M739.5 1072V1087M740.5 1076V1087M741.5 1078V1087M742.5 1077V1087M743.5 1077V1087M744.5 1077V1087M745.5 1076V1087M746.5 1077V1087M747.5 1075V1087M748.5 1086V1089M749.5 1086V1094M750.5 1086V1094M751.5 1086V1093M752.5 1086V1094M753.5 1086V1093M754.5 1086V1088M755.5 1082V1087M756.5 1084V1087M763.5 1086V1099M764.5 1085V1087M765.5 1085V1087M766.5 1085V1087M767.5 1083V1087M768.5 1085V1087M769.5 1083V1087M770.5 1084V1087M771.5 1084V1087M772.5 1086V1088M773.5 1086V1095M774.5 1086V1096M775.5 1086V1098M776.5 1086V1096M777.5 1086V1099M778.5 1086V1097M779.5 1086V1097M780.5 1086V1098M781.5 1086V1098M782.5 1086V1100M783.5 1086V1100M784.5 1086V1101M785.5 1086V1100M786.5 1086V1101M787.5 1086V1102M788.5 1086V1102M789.5 1086V1104M790.5 1086V1103M791.5 1086V1103M792.5 1086V1104M793.5 1086V1103M794.5 1086V1103M795.5 1086V1105M796.5 1086V1104M797.5 1086V1108M798.5 1086V1112M799.5 1078V1087M799.5 1086V1120M810.5 1070V1087M810.5 1086V1105M811.5 1063V1087M812.5 1061V1087M813.5 1071V1087M814.5 1077V1087M815.5 1076V1087M816.5 1080V1087M818.5 1086V1129M819.5 1086V1112M820.5 1086V1109M821.5 1086V1106M822.5 1086V1102M823.5 1086V1098M824.5 1086V1096M825.5 1086V1092M826.5 1085V1087M827.5 1081V1087M828.5 1079V1087M829.5 1076V1087M830.5 1073V1087M831.5 1073V1087M832.5 1079V1087M833.5 1082V1087M834.5 1078V1087M835.5 1073V1087M836.5 1070V1087M837.5 1074V1087M838.5 1079V1087M839.5 1079V1087M840.5 1080V1087M841.5 1081V1087M842.5 1081V1087M843.5 1080V1087M844.5 1082V1087M845.5 1082V1087M846.5 1082V1087M847.5 1080V1087M848.5 1082V1087M849.5 1079V1087M850.5 1080V1087M851.5 1080V1087M852.5 1080V1087M853.5 1080V1087M854.5 1079V1087M855.5 1081V1087M856.5 1081V1087M857.5 1080V1087M858.5 1082V1087M859.5 1081V1087M860.5 1081V1087M861.5 1080V1087M862.5 1082V1087M863.5 1079V1087M864.5 1079V1087M865.5 1082V1087M866.5 1086V1089M867.5 1086V1091M868.5 1086V1090M869.5 1086V1091M870.5 1086V1091M871.5 1086V1089M872.5 1086V1089M874.5 1085V1087M875.5 1083V1087M876.5 1082V1087M877.5 1081V1087M878.5 1081V1087M879.5 1083V1087M880.5 1084V1087M881.5 1085V1087M883.5 1086V1089M884.5 1086V1091M885.5 1086V1092M886.5 1086V1092M887.5 1086V1095M888.5 1086V1092M889.5 1086V1091M890.5 1086V1090M891.5 1086V1088M893.5 1083V1087M896.5 1086V1088M897.5 1086V1089M898.5 1086V1092M899.5 1086V1094M900.5 1086V1097M901.5 1086V1097M902.5 1086V1100M903.5 1086V1099M904.5 1086V1097M905.5 1086V1095M906.5 1086V1095M907.5 1086V1094M908.5 1086V1092M909.5 1086V1089M910.5 1084V1087M911.5 1081V1087M912.5 1082V1087M913.5 1083V1087M914.5 1082V1087M915.5 1084V1087M916.5 1085V1087M917.5 1086V1089M918.5 1086V1093M919.5 1086V1093M920.5 1086V1092M921.5 1086V1091M922.5 1086V1089M923.5 1086V1089M924.5 1086V1088M926.5 1085V1087M928.5 1086V1088M929.5 1086V1089M930.5 1086V1091M931.5 1086V1091M932.5 1086V1092M933.5 1086V1093M934.5 1086V1093M935.5 1086V1094M936.5 1086V1094M937.5 1086V1094M938.5 1086V1093M939.5 1086V1091M940.5 1086V1092M941.5 1086V1091M942.5 1086V1091M943.5 1086V1093M944.5 1086V1093M945.5 1086V1092M946.5 1086V1093M947.5 1086V1094M948.5 1086V1093M949.5 1086V1095M950.5 1086V1095M951.5 1086V1094M952.5 1086V1094M953.5 1086V1095M954.5 1086V1093M955.5 1086V1095M956.5 1086V1095M957.5 1086V1095M958.5 1086V1095M959.5 1086V1095M960.5 1086V1096M961.5 1086V1093M962.5 1086V1093M963.5 1086V1091M964.5 1086V1088M965.5 1085V1087M966.5 1082V1087M967.5 1080V1087M968.5 1082V1087M969.5 1084V1087M971.5 1086V1091M972.5 1086V1090M973.5 1086V1088M976.5 1083V1087M977.5 1081V1087M978.5 1082V1087M979.5 1083V1087M980.5 1084V1087M981.5 1084V1087M982.5 1084V1087M983.5 1085V1087M986.5 1086V1089M987.5 1086V1090M988.5 1086V1093M989.5 1086V1094M990.5 1086V1095M991.5 1086V1097M992.5 1086V1099M993.5 1086V1098M994.5 1086V1097M995.5 1086V1095M996.5 1086V1093M997.5 1086V1092M998.5 1086V1091M999.5 1086V1092M1000.5 1086V1090M1001.5 1086V1089M1002.5 1086V1089M1003.5 1086V1089M1004.5 1086V1091M1005.5 1086V1093M1006.5 1086V1093M1007.5 1086V1094M1008.5 1086V1093M1009.5 1086V1094M1010.5 1086V1095M1011.5 1086V1090M1012.5 1086V1090M1013.5 1085V1087M1014.5 1083V1087M1015.5 1081V1087M1016.5 1080V1087M1017.5 1080V1087M1018.5 1077V1087M1019.5 1078V1087M1020.5 1076V1087M1021.5 1075V1087M1022.5 1073V1087M1023.5 1072V1087M1024.5 1073V1087M1025.5 1072V1087M1026.5 1071V1087M1027.5 1069V1087M1028.5 1068V1087M1029.5 1068V1087M1030.5 1066V1087M1031.5 1071V1087M1032.5 1079V1087M1033.5 1086V1097M1034.5 1086V1092M1035.5 1082V1087M1036.5 1071V1087M1037.5 1086V1093M1038.5 1086V1094M1039.5 1086V1094M1040.5 1086V1097M1041.5 1086V1097M1042.5 1086V1099M1043.5 1086V1099M1044.5 1086V1098M1045.5 1086V1099M1046.5 1086V1098M1047.5 1086V1096M1048.5 1086V1096M1049.5 1086V1094M1050.5 1086V1093M1051.5 1086V1094M1052.5 1086V1092M1053.5 1086V1091M1054.5 1086V1091M1055.5 1086V1092M1056.5 1086V1092M1057.5 1086V1092M1058.5 1086V1093M1059.5 1086V1093M1060.5 1086V1093M1061.5 1086V1092M1062.5 1086V1092M1063.5 1086V1093M1064.5 1086V1094M1065.5 1086V1093M1066.5 1086V1094M1067.5 1086V1091M1068.5 1086V1092M1069.5 1086V1091M1070.5 1086V1093M1071.5 1086V1092M1072.5 1086V1092M1073.5 1086V1091M1074.5 1086V1090M1075.5 1086V1090M1076.5 1086V1090M1077.5 1086V1090M1078.5 1086V1089M1079.5 1086V1088M1080.5 1086V1090M1081.5 1086V1088M1082.5 1086V1089M1083.5 1086V1091M1084.5 1086V1091M1085.5 1086V1090M1086.5 1086V1092M1087.5 1086V1091M1088.5 1086V1092M1089.5 1086V1093M1090.5 1086V1093M1091.5 1086V1094M1092.5 1086V1093M1093.5 1086V1093M1094.5 1086V1095M1095.5 1086V1093M1096.5 1086V1091M1097.5 1086V1092M1098.5 1086V1092M1099.5 1086V1090M1100.5 1086V1089M1101.5 1086V1089M1102.5 1086V1090M1103.5 1086V1090M1104.5 1086V1090M1105.5 1086V1090M1106.5 1086V1090M1107.5 1086V1089M1108.5 1086V1090M1109.5 1086V1092M1110.5 1086V1092M1111.5 1086V1092M1112.5 1086V1094M1113.5 1086V1094M1114.5 1086V1093M1115.5 1086V1093M1116.5 1086V1093M1117.5 1086V1090M1118.5 1086V1090M1119.5 1086V1091M1120.5 1086V1092M1121.5 1086V1091M1122.5 1086V1091M1123.5 1086V1092M1124.5 1086V1092M1125.5 1086V1092M1126.5 1086V1094M1127.5 1086V1094M1128.5 1086V1094M1129.5 1086V1095M1130.5 1086V1092M1131.5 1086V1092M1132.5 1086V1091M1133.5 1086V1092M1134.5 1086V1092M1135.5 1086V1091M1136.5 1086V1092M1137.5 1086V1091" stroke="#000" stroke-width="1" fill="none"/>
<path d="M81 1086.5H1138" stroke="#000" stroke-width="1"/>
<path d="M601.5 1043 V1148 M617.5 1043 V1148" stroke="#ff2020" stroke-width="1"/>
<path d="M38 1039.5 H1181 M1180.5 1039 V1152" fill="none" stroke="#9a9a9a" stroke-width="1"/>
<path d="M38 1038.5 H1181" fill="none" stroke="#d8d8d8" stroke-width="1"/>
<path d="M38.5 1039.0 V1152.0 M39.5 1039.0 V1152.0" fill="none" stroke="#a0a0a0" stroke-width="1"/>
<path d="M38 1151.5 H1181" fill="none" stroke="#2a2a2a" stroke-width="1"/>
<path d="M38.5 1041 V1147 M39.5 1041 V1147" stroke="#4a4a4a" stroke-width="1" fill="none"/>
<path d="M34 1041.5 H40" stroke="#333" stroke-width="1"/>
<text transform="translate(29.3 1041.1) rotate(-90)" font-size="7.2" text-anchor="middle" stroke="#000" stroke-width="0.2">3</text>
<path d="M34 1056.5 H40" stroke="#333" stroke-width="1"/>
<text transform="translate(29.3 1056.2) rotate(-90)" font-size="7.2" text-anchor="middle" stroke="#000" stroke-width="0.2">2</text>
<path d="M34 1071.5 H40" stroke="#333" stroke-width="1"/>
<text transform="translate(29.3 1071.3) rotate(-90)" font-size="7.2" text-anchor="middle" stroke="#000" stroke-width="0.2">1</text>
<path d="M34 1086.5 H40" stroke="#333" stroke-width="1"/>
<text transform="translate(29.3 1086.3) rotate(-90)" font-size="7.2" text-anchor="middle" stroke="#000" stroke-width="0.2">0</text>
<path d="M34 1101.5 H40" stroke="#333" stroke-width="1"/>
<text transform="translate(29.3 1101.4) rotate(-90)" font-size="7.2" text-anchor="middle" stroke="#000" stroke-width="0.2">-1</text>
<path d="M34 1116.5 H40" stroke="#333" stroke-width="1"/>
<text transform="translate(29.3 1116.5) rotate(-90)" font-size="7.2" text-anchor="middle" stroke="#000" stroke-width="0.2">-2</text>
<path d="M34 1131.5 H40" stroke="#333" stroke-width="1"/>
<text transform="translate(29.3 1131.6) rotate(-90)" font-size="7.2" text-anchor="middle" stroke="#000" stroke-width="0.2">-3</text>
<path d="M34 1146.5 H40" stroke="#333" stroke-width="1"/>
<text transform="translate(29.3 1146.6) rotate(-90)" font-size="7.2" text-anchor="middle" stroke="#000" stroke-width="0.2">-4</text>
<text transform="translate(9.6 1095.1) rotate(-90)" font-size="8.6" text-anchor="middle" textLength="67" lengthAdjust="spacingAndGlyphs">log2 ratio (xrn1/WT)</text>
<path d="M156.0 1152 V1157" stroke="#333" stroke-width="1"/>
<text x="157.3" y="1170.0" font-size="6.9" text-anchor="middle" stroke="#000" stroke-width="0.2">180000</text>
<path d="M509.0 1152 V1157" stroke="#888" stroke-width="1"/>
<text x="510.0" y="1170.0" font-size="6.9" text-anchor="middle" stroke="#000" stroke-width="0.2">185000</text>
<path d="M861.0 1152 V1157" stroke="#333" stroke-width="1"/>
<text x="862.3" y="1170.0" font-size="6.9" text-anchor="middle" stroke="#000" stroke-width="0.2">190000</text>
<defs><clipPath id="annclip"><rect x="0" y="1200" width="1181" height="200"/></clipPath></defs>
<text x="610.3" y="1222.9" font-size="8.8" font-weight="bold" text-anchor="middle" textLength="55.7" lengthAdjust="spacing">Annotations</text>
<g clip-path="url(#annclip)">
<path d="M105.8 1263.7H144.0M112.3 1259.9L105.8 1263.7L112.3 1267.5" stroke="#1a1aff" stroke-width="0.90" fill="none" shape-rendering="auto"/>
<path d="M235.8 1274.0H245.0M238.5 1270.2L245.0 1274.0L238.5 1277.8" stroke="#111" stroke-width="0.90" fill="none" shape-rendering="auto"/>
<path d="M334.2 1284.6H340.6M340.7 1280.8L334.2 1284.6L340.7 1288.4" stroke="#111" stroke-width="0.90" fill="none" shape-rendering="auto"/>
<path d="M174.7 1316.0H192.5M186.0 1312.2L192.5 1316.0L186.0 1319.8" stroke="#111" stroke-width="0.90" fill="none" shape-rendering="auto"/>
<path d="M185.0 1337.0H208.8M202.2 1333.2L208.8 1337.0L202.2 1340.8" stroke="#ff1a1a" stroke-width="0.90" fill="none" shape-rendering="auto"/>
<path d="M176.2 1347.0H224.2M182.8 1343.2L176.2 1347.0L182.8 1350.8" stroke="#ff1a1a" stroke-width="0.90" fill="none" shape-rendering="auto"/>
<path d="M262.5 1347.0H283.8M269.0 1343.2L262.5 1347.0L269.0 1350.8" stroke="#ff1a1a" stroke-width="0.90" fill="none" shape-rendering="auto"/>
<path d="M358.8 1347.0H410.0M365.2 1343.2L358.8 1347.0L365.2 1350.8" stroke="#ff1a1a" stroke-width="0.90" fill="none" shape-rendering="auto"/>
<path d="M577.7 1347.0H604.5M584.2 1343.2L577.7 1347.0L584.2 1350.8" stroke="#ff1a1a" stroke-width="0.90" fill="none" shape-rendering="auto"/>
<path d="M655.5 1347.0H729.9M662.0 1343.2L655.5 1347.0L662.0 1350.8" stroke="#ff1a1a" stroke-width="0.90" fill="none" shape-rendering="auto"/>
<path d="M775.4 1347.0H798.7M781.9 1343.2L775.4 1347.0L781.9 1350.8" stroke="#ff1a1a" stroke-width="0.90" fill="none" shape-rendering="auto"/>
<path d="M829.3 1347.0H864.3M835.8 1343.2L829.3 1347.0L835.8 1350.8" stroke="#ff1a1a" stroke-width="0.90" fill="none" shape-rendering="auto"/>
<path d="M421.5 1253.4H471.9M465.4 1249.6L471.9 1253.4L465.4 1257.2" stroke="#1a1aff" stroke-width="0.90" fill="none" shape-rendering="auto"/>
<path d="M500.0 1253.4H551.0M544.5 1249.6L551.0 1253.4L544.5 1257.2" stroke="#1a1aff" stroke-width="0.90" fill="none" shape-rendering="auto"/>
<path d="M601.0 1253.4H617.3M610.8 1249.6L617.3 1253.4L610.8 1257.2" stroke="#1a1aff" stroke-width="0.90" fill="none" shape-rendering="auto"/>
<path d="M637.3 1253.4H701.7M695.2 1249.6L701.7 1253.4L695.2 1257.2" stroke="#1a1aff" stroke-width="0.90" fill="none" shape-rendering="auto"/>
<path d="M615.0 1264.0H639.0M621.5 1260.2L615.0 1264.0L621.5 1267.8" stroke="#1a1aff" stroke-width="0.90" fill="none" shape-rendering="auto"/>
<path d="M726.7 1253.4H777.7M771.2 1249.6L777.7 1253.4L771.2 1257.2" stroke="#1a1aff" stroke-width="0.90" fill="none" shape-rendering="auto"/>
<path d="M874.2 1253.4H1020.0M1013.5 1249.6L1020.0 1253.4L1013.5 1257.2" stroke="#1a1aff" stroke-width="0.90" fill="none" shape-rendering="auto"/>
<path d="M1045.0 1253.4H1200.0" stroke="#1a1aff" stroke-width="0.90" fill="none" shape-rendering="auto"/>
<path d="M1025.3 1263.9H1031.7M1031.8 1260.1L1025.3 1263.9L1031.8 1267.7" stroke="#1a1aff" stroke-width="0.90" fill="none" shape-rendering="auto"/>
<path d="M974.7 1305.3H1015.8M981.2 1301.5L974.7 1305.3L981.2 1309.1" stroke="#111" stroke-width="0.90" fill="none" shape-rendering="auto"/>
<text x="98.7" y="1261.3" font-size="8.0" fill="#0000ff" stroke="#0000ff" stroke-width="0.25" textLength="51.3" lengthAdjust="spacingAndGlyphs">gene YAR023C</text>
<text x="214.7" y="1271.0" font-size="8.0" fill="#000" stroke="#000" stroke-width="0.25" textLength="53.3" lengthAdjust="spacingAndGlyphs">tRNA tL(CAA)A</text>
<text x="309.2" y="1281.7" font-size="8.0" fill="#000" stroke="#000" stroke-width="0.25" textLength="54.6" lengthAdjust="spacingAndGlyphs">tRNA tS(AGA)A</text>
<text x="160.0" y="1313.7" font-size="8.0" fill="#000" stroke="#000" stroke-width="0.25" textLength="48.0" lengthAdjust="spacingAndGlyphs">CUT CUT005</text>
<text x="178.0" y="1334.5" font-size="8.0" fill="#ff0000" stroke="#ff0000" stroke-width="0.25" textLength="38.0" lengthAdjust="spacingAndGlyphs">XUT 1F-75</text>
<text x="181.2" y="1344.5" font-size="8.0" fill="#ff0000" stroke="#ff0000" stroke-width="0.25" textLength="38.8" lengthAdjust="spacingAndGlyphs">XUT 1R-79</text>
<text x="253.8" y="1344.5" font-size="8.0" fill="#ff0000" stroke="#ff0000" stroke-width="0.25" textLength="39.2" lengthAdjust="spacingAndGlyphs">XUT 1R-80</text>
<text x="365.0" y="1344.5" font-size="8.0" fill="#ff0000" stroke="#ff0000" stroke-width="0.25" textLength="39.0" lengthAdjust="spacingAndGlyphs">XUT 1R-83</text>
<text x="571.9" y="1344.5" font-size="8.0" fill="#ff0000" stroke="#ff0000" stroke-width="0.25" textLength="39.3" lengthAdjust="spacingAndGlyphs">XUT 1R-85</text>
<text x="673.0" y="1344.5" font-size="8.0" fill="#ff0000" stroke="#ff0000" stroke-width="0.25" textLength="38.8" lengthAdjust="spacingAndGlyphs">XUT 1R-87</text>
<text x="768.0" y="1344.5" font-size="8.0" fill="#ff0000" stroke="#ff0000" stroke-width="0.25" textLength="39.0" lengthAdjust="spacingAndGlyphs">XUT 1R-90</text>
<text x="827.8" y="1344.5" font-size="8.0" fill="#ff0000" stroke="#ff0000" stroke-width="0.25" textLength="39.2" lengthAdjust="spacingAndGlyphs">XUT 1R-91</text>
<text x="419.9" y="1250.0" font-size="8.0" fill="#0000ff" stroke="#0000ff" stroke-width="0.25" textLength="53.3" lengthAdjust="spacingAndGlyphs">gene YAR027W</text>
<text x="499.0" y="1250.0" font-size="8.0" fill="#0000ff" stroke="#0000ff" stroke-width="0.25" textLength="53.3" lengthAdjust="spacingAndGlyphs">gene YAR028W</text>
<text x="582.7" y="1250.0" font-size="8.0" fill="#0000ff" stroke="#0000ff" stroke-width="0.25" textLength="53.3" lengthAdjust="spacingAndGlyphs">gene YAR029W</text>
<text x="642.7" y="1250.0" font-size="8.0" fill="#0000ff" stroke="#0000ff" stroke-width="0.25" textLength="53.3" lengthAdjust="spacingAndGlyphs">gene YAR031W</text>
<text x="600.0" y="1261.7" font-size="8.0" fill="#0000ff" stroke="#0000ff" stroke-width="0.25" textLength="52.3" lengthAdjust="spacingAndGlyphs">gene YAR030C</text>
<text x="725.7" y="1250.0" font-size="8.0" fill="#0000ff" stroke="#0000ff" stroke-width="0.25" textLength="53.6" lengthAdjust="spacingAndGlyphs">gene YAR033W</text>
<text x="920.9" y="1250.0" font-size="8.0" fill="#0000ff" stroke="#0000ff" stroke-width="0.25" textLength="53.8" lengthAdjust="spacingAndGlyphs">gene YAR035W</text>
<text x="1144.0" y="1250.0" font-size="8.0" fill="#0000ff" stroke="#0000ff" stroke-width="0.25" textLength="54.0" lengthAdjust="spacingAndGlyphs">gene YAR036W</text>
<text x="998.0" y="1260.7" font-size="8.0" fill="#0000ff" stroke="#0000ff" stroke-width="0.25" textLength="60.0" lengthAdjust="spacingAndGlyphs">gene YAR035C-A</text>
<text x="971.9" y="1303.0" font-size="8.0" fill="#000" stroke="#000" stroke-width="0.25" textLength="45.9" lengthAdjust="spacingAndGlyphs">SUT SUT436</text>
</g>
<text x="610" y="1423" font-size="8.8" font-weight="bold" text-anchor="middle" textLength="32.5" lengthAdjust="spacing">Legend</text>
<path d="M477.0 1464.0H742.0M735.0 1459.7L742.0 1464.0L735.0 1468.3" stroke="#5c5cff" stroke-width="1.20" fill="none" shape-rendering="auto"/>
<text x="610" y="1455.3" font-size="7.6" fill="#0000ff" text-anchor="middle" textLength="20.0" lengthAdjust="spacingAndGlyphs">genes</text>
<path d="M477.0 1505.8H742.0M735.0 1501.5L742.0 1505.8L735.0 1510.1" stroke="#ff5c5c" stroke-width="1.20" fill="none" shape-rendering="auto"/>
<text x="610" y="1497.1" font-size="7.6" fill="#ff0000" text-anchor="middle" textLength="20.0" lengthAdjust="spacingAndGlyphs">XUTs</text>
<path d="M477.0 1547.8H742.0M735.0 1543.5L742.0 1547.8L735.0 1552.1" stroke="#333" stroke-width="1.20" fill="none" shape-rendering="auto"/>
<text x="610" y="1539.1" font-size="7.6" fill="#000" text-anchor="middle" textLength="16.5" lengthAdjust="spacingAndGlyphs">other</text>
</svg></body></html>
